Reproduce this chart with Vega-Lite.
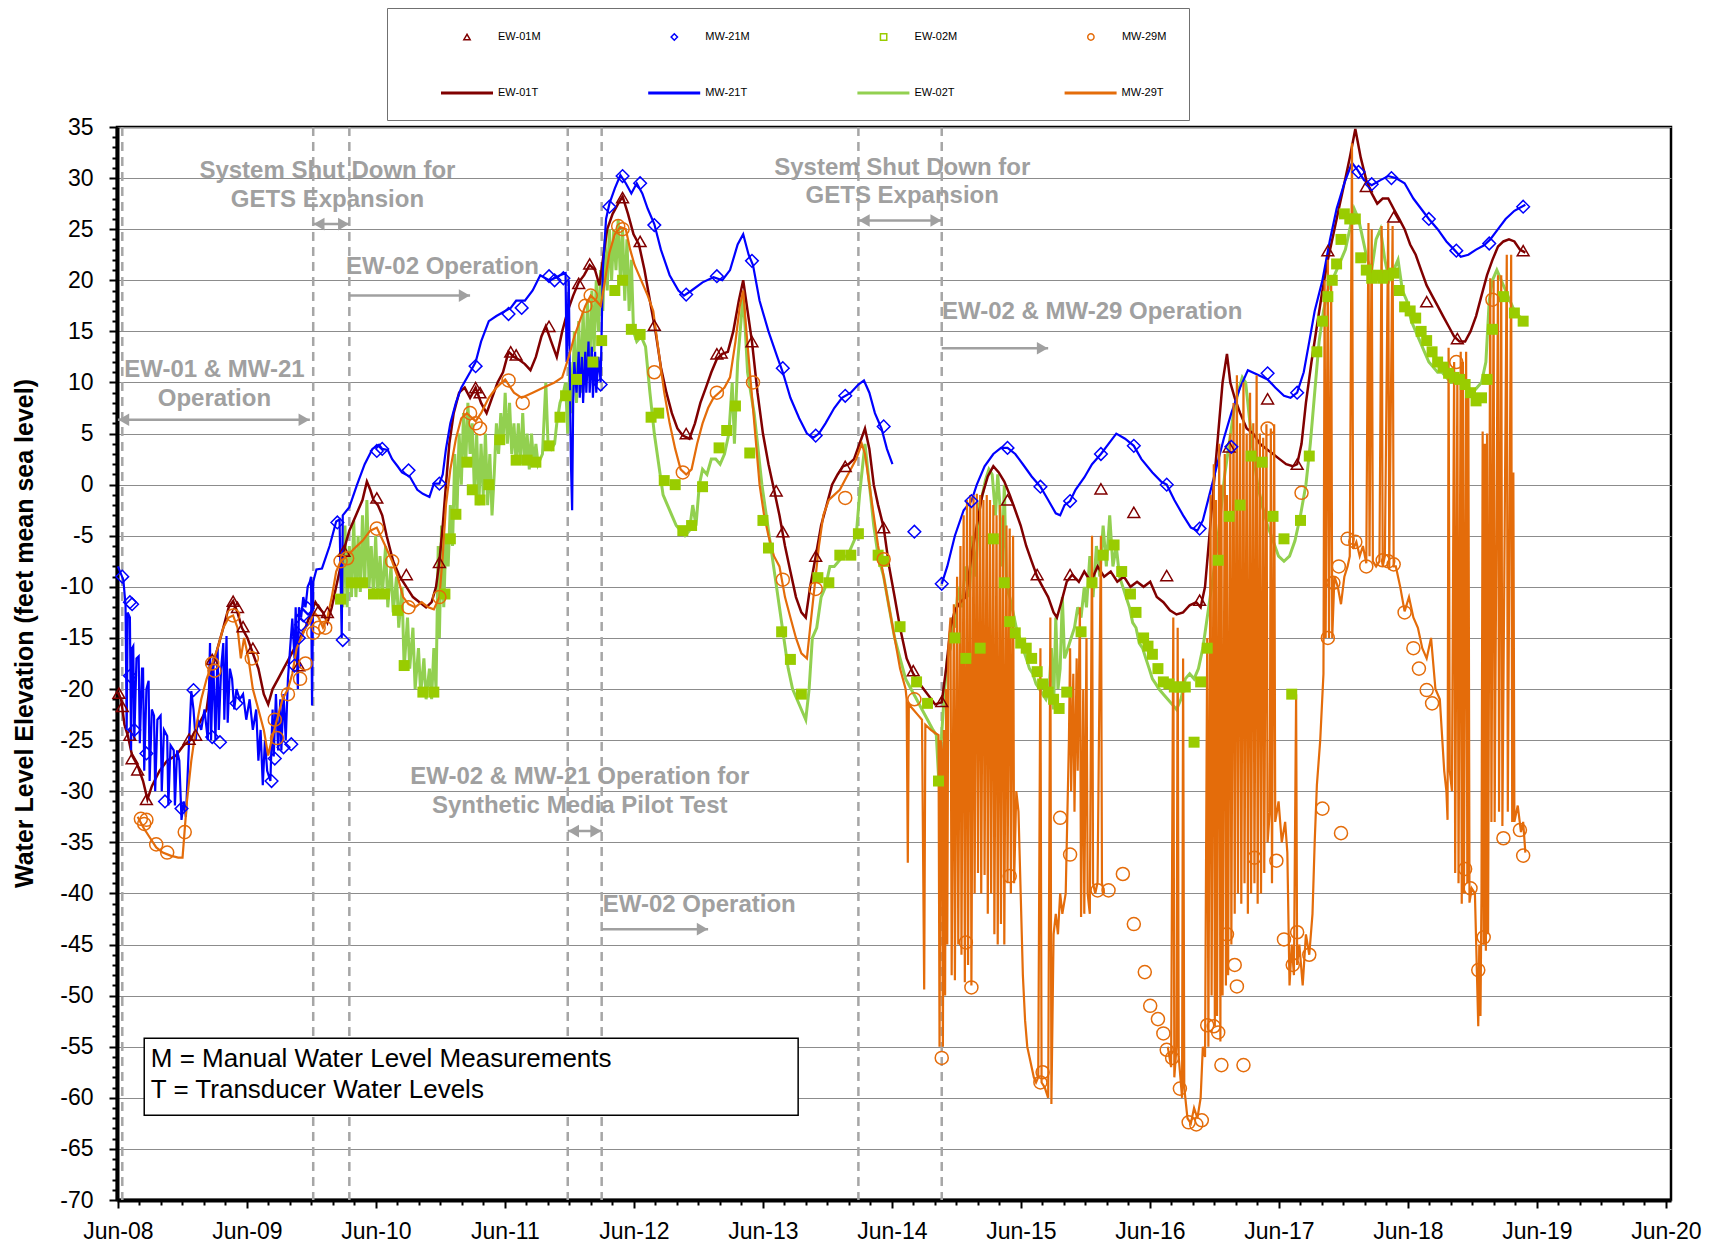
{
"$schema": "https://vega.github.io/schema/vega-lite/v6.json",
"width": 1554, "height": 1073,
"autosize": "none",
"padding": {"left": 117, "top": 127, "right": 54, "bottom": 45},
"background": "white",
"config": {
  "font": "Liberation Sans",
  "view": {"stroke": "black", "strokeWidth": 2.5},
  "axis": {"labelFont": "Liberation Sans", "labelFontSize": 23, "labelColor": "black", "domainColor": "black", "domainWidth": 4, "tickColor": "black", "tickWidth": 2, "labelOverlap": false, "labelFlush": false, "labelBound": false, "titleFont": "Liberation Sans"}
},
"datasets": {
"dashes": [{"year":2008.451},{"year":2009.931},{"year":2010.211},{"year":2011.904},{"year":2012.167},{"year":2014.157},{"year":2014.803}],
"box": [{"year":2008.621,"year2":2013.690,"level":-54.17,"level2":-61.7}],
"boxtext": [{"year":2008.672,"level":-56.2,"label":"M = Manual Water Level Measurements"},{"year":2008.672,"level":-59.2,"label":"T = Transducer Water Levels"}],
"notesc": [
 {"year":2010.041,"level":30.7,"label":"System Shut Down for"},
 {"year":2010.041,"level":27.9,"label":"GETS Expansion"},
 {"year":2009.165,"level":11.2,"label":"EW-01 & MW-21"},
 {"year":2009.165,"level":8.4,"label":"Operation"},
 {"year":2014.497,"level":31.0,"label":"System Shut Down for"},
 {"year":2014.497,"level":28.2,"label":"GETS Expansion"},
 {"year":2011.997,"level":-28.6,"label":"EW-02 & MW-21 Operation for"},
 {"year":2011.997,"level":-31.4,"label":"Synthetic Media Pilot Test"}],
"notesl": [
 {"year":2010.186,"level":21.3,"label":"EW-02 Operation"},
 {"year":2014.805,"level":16.9,"label":"EW-02 & MW-29 Operation"},
 {"year":2012.176,"level":-41.1,"label":"EW-02 Operation"}],
"arrows": [
 {"year":2009.931,"year2":2010.211,"level":25.5},
 {"year":2010.211,"year2":2011.147,"level":18.5},
 {"year":2008.417,"year2":2009.905,"level":6.35},
 {"year":2014.157,"year2":2014.803,"level":25.85},
 {"year":2014.803,"year2":2015.628,"level":13.35},
 {"year":2011.904,"year2":2012.167,"level":-33.9},
 {"year":2012.167,"year2":2012.992,"level":-43.5}],
"headsl": [{"year":2009.976,"level":25.5},{"year":2008.462,"level":6.35},{"year":2014.202,"level":25.85},{"year":2011.949,"level":-33.9}],
"headsr": [{"year":2010.166,"level":25.5},{"year":2011.102,"level":18.5},{"year":2009.860,"level":6.35},{"year":2014.758,"level":25.85},{"year":2015.583,"level":13.35},{"year":2012.122,"level":-33.9},{"year":2012.947,"level":-43.5}],
"ew02t": [
{"series":"EW-02T","year":2010.143,"level":-8},{"series":"EW-02T","year":2010.160,"level":-12},{"series":"EW-02T","year":2010.177,"level":-4},{"series":"EW-02T","year":2010.194,"level":-12},{"series":"EW-02T","year":2010.211,"level":-6},{"series":"EW-02T","year":2010.228,"level":-11},{"series":"EW-02T","year":2010.245,"level":-3.5},{"series":"EW-02T","year":2010.262,"level":-11},{"series":"EW-02T","year":2010.279,"level":-5},{"series":"EW-02T","year":2010.296,"level":-10.5},{"series":"EW-02T","year":2010.313,"level":-3},{"series":"EW-02T","year":2010.330,"level":-10},{"series":"EW-02T","year":2010.347,"level":-1.5},{"series":"EW-02T","year":2010.364,"level":-10},{"series":"EW-02T","year":2010.381,"level":-6},{"series":"EW-02T","year":2010.398,"level":-11},{"series":"EW-02T","year":2010.415,"level":-5},{"series":"EW-02T","year":2010.432,"level":-11},{"series":"EW-02T","year":2010.449,"level":-7},{"series":"EW-02T","year":2010.466,"level":-11},{"series":"EW-02T","year":2010.492,"level":-6},{"series":"EW-02T","year":2010.509,"level":-12},{"series":"EW-02T","year":2010.534,"level":-8},{"series":"EW-02T","year":2010.551,"level":-12.5},{"series":"EW-02T","year":2010.577,"level":-9},{"series":"EW-02T","year":2010.594,"level":-14},{"series":"EW-02T","year":2010.619,"level":-10},{"series":"EW-02T","year":2010.636,"level":-18},{"series":"EW-02T","year":2010.662,"level":-13},{"series":"EW-02T","year":2010.679,"level":-18},{"series":"EW-02T","year":2010.704,"level":-14},{"series":"EW-02T","year":2010.721,"level":-20},{"series":"EW-02T","year":2010.747,"level":-16},{"series":"EW-02T","year":2010.764,"level":-20.5},{"series":"EW-02T","year":2010.789,"level":-17},{"series":"EW-02T","year":2010.806,"level":-21},{"series":"EW-02T","year":2010.832,"level":-18},{"series":"EW-02T","year":2010.849,"level":-21},{"series":"EW-02T","year":2010.866,"level":-16},{"series":"EW-02T","year":2010.883,"level":-20},{"series":"EW-02T","year":2010.900,"level":-6},{"series":"EW-02T","year":2010.909,"level":-15},{"series":"EW-02T","year":2010.926,"level":-4},{"series":"EW-02T","year":2010.943,"level":-12},{"series":"EW-02T","year":2010.960,"level":-5},{"series":"EW-02T","year":2010.977,"level":-8},{"series":"EW-02T","year":2010.994,"level":-2},{"series":"EW-02T","year":2011.011,"level":-6},{"series":"EW-02T","year":2011.028,"level":3},{"series":"EW-02T","year":2011.045,"level":-3},{"series":"EW-02T","year":2011.062,"level":5},{"series":"EW-02T","year":2011.079,"level":0},{"series":"EW-02T","year":2011.096,"level":7},{"series":"EW-02T","year":2011.113,"level":2},{"series":"EW-02T","year":2011.130,"level":8},{"series":"EW-02T","year":2011.147,"level":3},{"series":"EW-02T","year":2011.164,"level":6},{"series":"EW-02T","year":2011.181,"level":-1},{"series":"EW-02T","year":2011.198,"level":5},{"series":"EW-02T","year":2011.215,"level":-2},{"series":"EW-02T","year":2011.232,"level":4},{"series":"EW-02T","year":2011.249,"level":-1},{"series":"EW-02T","year":2011.266,"level":5},{"series":"EW-02T","year":2011.283,"level":-2},{"series":"EW-02T","year":2011.300,"level":3},{"series":"EW-02T","year":2011.317,"level":-3},{"series":"EW-02T","year":2011.334,"level":1},{"series":"EW-02T","year":2011.351,"level":6},{"series":"EW-02T","year":2011.368,"level":3},{"series":"EW-02T","year":2011.385,"level":7},{"series":"EW-02T","year":2011.402,"level":4},{"series":"EW-02T","year":2011.419,"level":9},{"series":"EW-02T","year":2011.436,"level":4},{"series":"EW-02T","year":2011.453,"level":8},{"series":"EW-02T","year":2011.470,"level":3},{"series":"EW-02T","year":2011.487,"level":6},{"series":"EW-02T","year":2011.504,"level":2},{"series":"EW-02T","year":2011.521,"level":6},{"series":"EW-02T","year":2011.538,"level":2},{"series":"EW-02T","year":2011.555,"level":7},{"series":"EW-02T","year":2011.572,"level":2},{"series":"EW-02T","year":2011.589,"level":5},{"series":"EW-02T","year":2011.606,"level":1.5},{"series":"EW-02T","year":2011.623,"level":5},{"series":"EW-02T","year":2011.640,"level":2},{"series":"EW-02T","year":2011.657,"level":4},{"series":"EW-02T","year":2011.674,"level":2},{"series":"EW-02T","year":2011.708,"level":3},{"series":"EW-02T","year":2011.734,"level":10},{"series":"EW-02T","year":2011.751,"level":4},{"series":"EW-02T","year":2011.776,"level":3.5},{"series":"EW-02T","year":2011.802,"level":4},{"series":"EW-02T","year":2011.819,"level":6},{"series":"EW-02T","year":2011.844,"level":8},{"series":"EW-02T","year":2011.870,"level":9},{"series":"EW-02T","year":2011.887,"level":10},{"series":"EW-02T","year":2011.904,"level":5},{"series":"EW-02T","year":2011.921,"level":12},{"series":"EW-02T","year":2011.938,"level":7},{"series":"EW-02T","year":2011.955,"level":15},{"series":"EW-02T","year":2011.972,"level":8},{"series":"EW-02T","year":2011.989,"level":16},{"series":"EW-02T","year":2012.006,"level":9},{"series":"EW-02T","year":2012.023,"level":17},{"series":"EW-02T","year":2012.040,"level":10},{"series":"EW-02T","year":2012.057,"level":18},{"series":"EW-02T","year":2012.074,"level":11},{"series":"EW-02T","year":2012.091,"level":19},{"series":"EW-02T","year":2012.108,"level":13},{"series":"EW-02T","year":2012.125,"level":20},{"series":"EW-02T","year":2012.142,"level":15},{"series":"EW-02T","year":2012.159,"level":21},{"series":"EW-02T","year":2012.176,"level":17},{"series":"EW-02T","year":2012.193,"level":24},{"series":"EW-02T","year":2012.210,"level":19},{"series":"EW-02T","year":2012.227,"level":25},{"series":"EW-02T","year":2012.244,"level":20},{"series":"EW-02T","year":2012.261,"level":25},{"series":"EW-02T","year":2012.278,"level":21},{"series":"EW-02T","year":2012.295,"level":26},{"series":"EW-02T","year":2012.312,"level":20},{"series":"EW-02T","year":2012.329,"level":25},{"series":"EW-02T","year":2012.346,"level":18},{"series":"EW-02T","year":2012.363,"level":24},{"series":"EW-02T","year":2012.380,"level":17},{"series":"EW-02T","year":2012.397,"level":22},{"series":"EW-02T","year":2012.414,"level":15},{"series":"EW-02T","year":2012.439,"level":14},{"series":"EW-02T","year":2012.473,"level":14.5},{"series":"EW-02T","year":2012.507,"level":13.5},{"series":"EW-02T","year":2012.541,"level":9},{"series":"EW-02T","year":2012.575,"level":5},{"series":"EW-02T","year":2012.609,"level":2},{"series":"EW-02T","year":2012.643,"level":-1},{"series":"EW-02T","year":2012.677,"level":-2},{"series":"EW-02T","year":2012.711,"level":-3},{"series":"EW-02T","year":2012.745,"level":-4},{"series":"EW-02T","year":2012.779,"level":-4.5},{"series":"EW-02T","year":2012.813,"level":-5},{"series":"EW-02T","year":2012.847,"level":-4.5},{"series":"EW-02T","year":2012.873,"level":-2},{"series":"EW-02T","year":2012.898,"level":-4},{"series":"EW-02T","year":2012.924,"level":0},{"series":"EW-02T","year":2012.949,"level":1.5},{"series":"EW-02T","year":2012.983,"level":1},{"series":"EW-02T","year":2013.017,"level":2.5},{"series":"EW-02T","year":2013.051,"level":2.5},{"series":"EW-02T","year":2013.085,"level":2},{"series":"EW-02T","year":2013.119,"level":3},{"series":"EW-02T","year":2013.153,"level":5},{"series":"EW-02T","year":2013.179,"level":10},{"series":"EW-02T","year":2013.196,"level":4},{"series":"EW-02T","year":2013.221,"level":12},{"series":"EW-02T","year":2013.247,"level":16},{"series":"EW-02T","year":2013.264,"level":18.5},{"series":"EW-02T","year":2013.281,"level":15},{"series":"EW-02T","year":2013.298,"level":11},{"series":"EW-02T","year":2013.323,"level":9},{"series":"EW-02T","year":2013.349,"level":7},{"series":"EW-02T","year":2013.375,"level":4},{"series":"EW-02T","year":2013.409,"level":0},{"series":"EW-02T","year":2013.443,"level":-3},{"series":"EW-02T","year":2013.477,"level":-6},{"series":"EW-02T","year":2013.511,"level":-9},{"series":"EW-02T","year":2013.545,"level":-12},{"series":"EW-02T","year":2013.579,"level":-15},{"series":"EW-02T","year":2013.613,"level":-18},{"series":"EW-02T","year":2013.647,"level":-20},{"series":"EW-02T","year":2013.681,"level":-21},{"series":"EW-02T","year":2013.715,"level":-22},{"series":"EW-02T","year":2013.749,"level":-23},{"series":"EW-02T","year":2013.775,"level":-20},{"series":"EW-02T","year":2013.800,"level":-15},{"series":"EW-02T","year":2013.834,"level":-14},{"series":"EW-02T","year":2013.868,"level":-11},{"series":"EW-02T","year":2013.902,"level":-10},{"series":"EW-02T","year":2013.936,"level":-8},{"series":"EW-02T","year":2013.970,"level":-8},{"series":"EW-02T","year":2014.004,"level":-7.5},{"series":"EW-02T","year":2014.038,"level":-7},{"series":"EW-02T","year":2014.072,"level":-7},{"series":"EW-02T","year":2014.106,"level":-6},{"series":"EW-02T","year":2014.140,"level":-5},{"series":"EW-02T","year":2014.166,"level":-1},{"series":"EW-02T","year":2014.191,"level":2},{"series":"EW-02T","year":2014.208,"level":4},{"series":"EW-02T","year":2014.225,"level":2},{"series":"EW-02T","year":2014.251,"level":-1},{"series":"EW-02T","year":2014.276,"level":-4},{"series":"EW-02T","year":2014.310,"level":-7},{"series":"EW-02T","year":2014.353,"level":-9},{"series":"EW-02T","year":2014.395,"level":-12},{"series":"EW-02T","year":2014.438,"level":-15},{"series":"EW-02T","year":2014.480,"level":-17},{"series":"EW-02T","year":2014.523,"level":-19},{"series":"EW-02T","year":2014.565,"level":-20},{"series":"EW-02T","year":2014.608,"level":-21},{"series":"EW-02T","year":2014.650,"level":-22},{"series":"EW-02T","year":2014.693,"level":-23},{"series":"EW-02T","year":2014.735,"level":-24},{"series":"EW-02T","year":2014.761,"level":-24.5},{"series":"EW-02T","year":2014.778,"level":-28.5},{"series":"EW-02T","year":2014.795,"level":-26},{"series":"EW-02T","year":2014.820,"level":-21},{"series":"EW-02T","year":2014.846,"level":-17},{"series":"EW-02T","year":2014.871,"level":-16},{"series":"EW-02T","year":2014.888,"level":-13},{"series":"EW-02T","year":2014.905,"level":-14},{"series":"EW-02T","year":2014.931,"level":-10},{"series":"EW-02T","year":2014.956,"level":-12},{"series":"EW-02T","year":2014.990,"level":-8},{"series":"EW-02T","year":2015.016,"level":-11},{"series":"EW-02T","year":2015.041,"level":-5},{"series":"EW-02T","year":2015.067,"level":-9},{"series":"EW-02T","year":2015.092,"level":-2},{"series":"EW-02T","year":2015.118,"level":-1},{"series":"EW-02T","year":2015.143,"level":0.5},{"series":"EW-02T","year":2015.169,"level":1.5},{"series":"EW-02T","year":2015.194,"level":1},{"series":"EW-02T","year":2015.220,"level":-3},{"series":"EW-02T","year":2015.237,"level":1},{"series":"EW-02T","year":2015.254,"level":-2},{"series":"EW-02T","year":2015.271,"level":-8},{"series":"EW-02T","year":2015.288,"level":0},{"series":"EW-02T","year":2015.305,"level":-10},{"series":"EW-02T","year":2015.330,"level":-11},{"series":"EW-02T","year":2015.356,"level":-12.5},{"series":"EW-02T","year":2015.381,"level":-14},{"series":"EW-02T","year":2015.407,"level":-15},{"series":"EW-02T","year":2015.432,"level":-16},{"series":"EW-02T","year":2015.458,"level":-17},{"series":"EW-02T","year":2015.483,"level":-18},{"series":"EW-02T","year":2015.509,"level":-18.5},{"series":"EW-02T","year":2015.534,"level":-19.5},{"series":"EW-02T","year":2015.560,"level":-20},{"series":"EW-02T","year":2015.585,"level":-20.5},{"series":"EW-02T","year":2015.611,"level":-21},{"series":"EW-02T","year":2015.636,"level":-20},{"series":"EW-02T","year":2015.653,"level":-16},{"series":"EW-02T","year":2015.670,"level":-22},{"series":"EW-02T","year":2015.687,"level":-13},{"series":"EW-02T","year":2015.704,"level":-20},{"series":"EW-02T","year":2015.721,"level":-18},{"series":"EW-02T","year":2015.738,"level":-11},{"series":"EW-02T","year":2015.755,"level":-17},{"series":"EW-02T","year":2015.781,"level":-16},{"series":"EW-02T","year":2015.806,"level":-15},{"series":"EW-02T","year":2015.832,"level":-14},{"series":"EW-02T","year":2015.857,"level":-12},{"series":"EW-02T","year":2015.883,"level":-13},{"series":"EW-02T","year":2015.908,"level":-10},{"series":"EW-02T","year":2015.925,"level":-12},{"series":"EW-02T","year":2015.951,"level":-7},{"series":"EW-02T","year":2015.976,"level":-11},{"series":"EW-02T","year":2016.002,"level":-6},{"series":"EW-02T","year":2016.028,"level":-9},{"series":"EW-02T","year":2016.054,"level":-4},{"series":"EW-02T","year":2016.079,"level":-8},{"series":"EW-02T","year":2016.105,"level":-3},{"series":"EW-02T","year":2016.130,"level":-8},{"series":"EW-02T","year":2016.156,"level":-6},{"series":"EW-02T","year":2016.181,"level":-9},{"series":"EW-02T","year":2016.207,"level":-10},{"series":"EW-02T","year":2016.232,"level":-11},{"series":"EW-02T","year":2016.258,"level":-12},{"series":"EW-02T","year":2016.283,"level":-13.5},{"series":"EW-02T","year":2016.309,"level":-14},{"series":"EW-02T","year":2016.334,"level":-15.5},{"series":"EW-02T","year":2016.360,"level":-16},{"series":"EW-02T","year":2016.385,"level":-17},{"series":"EW-02T","year":2016.411,"level":-18},{"series":"EW-02T","year":2016.436,"level":-19},{"series":"EW-02T","year":2016.462,"level":-19.5},{"series":"EW-02T","year":2016.487,"level":-20},{"series":"EW-02T","year":2016.521,"level":-20.5},{"series":"EW-02T","year":2016.555,"level":-21},{"series":"EW-02T","year":2016.589,"level":-21.5},{"series":"EW-02T","year":2016.623,"level":-22},{"series":"EW-02T","year":2016.657,"level":-21},{"series":"EW-02T","year":2016.691,"level":-19},{"series":"EW-02T","year":2016.725,"level":-18.5},{"series":"EW-02T","year":2016.759,"level":-19},{"series":"EW-02T","year":2016.793,"level":-18},{"series":"EW-02T","year":2016.827,"level":-16},{"series":"EW-02T","year":2016.861,"level":-13},{"series":"EW-02T","year":2016.895,"level":-10},{"series":"EW-02T","year":2016.929,"level":-7},{"series":"EW-02T","year":2016.963,"level":-3},{"series":"EW-02T","year":2016.997,"level":1},{"series":"EW-02T","year":2017.031,"level":4},{"series":"EW-02T","year":2017.065,"level":7},{"series":"EW-02T","year":2017.099,"level":9},{"series":"EW-02T","year":2017.133,"level":10.5},{"series":"EW-02T","year":2017.159,"level":10},{"series":"EW-02T","year":2017.184,"level":7},{"series":"EW-02T","year":2017.218,"level":3},{"series":"EW-02T","year":2017.252,"level":0},{"series":"EW-02T","year":2017.286,"level":-2},{"series":"EW-02T","year":2017.329,"level":-4},{"series":"EW-02T","year":2017.371,"level":-5.5},{"series":"EW-02T","year":2017.414,"level":-7},{"series":"EW-02T","year":2017.456,"level":-7.5},{"series":"EW-02T","year":2017.499,"level":-7},{"series":"EW-02T","year":2017.541,"level":-5.5},{"series":"EW-02T","year":2017.584,"level":-3},{"series":"EW-02T","year":2017.626,"level":0},{"series":"EW-02T","year":2017.660,"level":4},{"series":"EW-02T","year":2017.694,"level":9},{"series":"EW-02T","year":2017.728,"level":14},{"series":"EW-02T","year":2017.762,"level":17},{"series":"EW-02T","year":2017.796,"level":19},{"series":"EW-02T","year":2017.830,"level":20},{"series":"EW-02T","year":2017.864,"level":21},{"series":"EW-02T","year":2017.898,"level":22},{"series":"EW-02T","year":2017.932,"level":23},{"series":"EW-02T","year":2017.966,"level":25},{"series":"EW-02T","year":2018.000,"level":27},{"series":"EW-02T","year":2018.034,"level":26},{"series":"EW-02T","year":2018.068,"level":24},{"series":"EW-02T","year":2018.102,"level":22},{"series":"EW-02T","year":2018.136,"level":21},{"series":"EW-02T","year":2018.170,"level":24},{"series":"EW-02T","year":2018.204,"level":25},{"series":"EW-02T","year":2018.238,"level":22},{"series":"EW-02T","year":2018.272,"level":20},{"series":"EW-02T","year":2018.306,"level":21},{"series":"EW-02T","year":2018.340,"level":22},{"series":"EW-02T","year":2018.374,"level":19},{"series":"EW-02T","year":2018.408,"level":18},{"series":"EW-02T","year":2018.443,"level":16},{"series":"EW-02T","year":2018.477,"level":15},{"series":"EW-02T","year":2018.511,"level":14},{"series":"EW-02T","year":2018.545,"level":13},{"series":"EW-02T","year":2018.579,"level":12},{"series":"EW-02T","year":2018.613,"level":11.5},{"series":"EW-02T","year":2018.647,"level":11},{"series":"EW-02T","year":2018.681,"level":11},{"series":"EW-02T","year":2018.715,"level":10.5},{"series":"EW-02T","year":2018.749,"level":10},{"series":"EW-02T","year":2018.783,"level":10},{"series":"EW-02T","year":2018.817,"level":10},{"series":"EW-02T","year":2018.851,"level":10},{"series":"EW-02T","year":2018.885,"level":9.5},{"series":"EW-02T","year":2018.919,"level":9},{"series":"EW-02T","year":2018.953,"level":9.5},{"series":"EW-02T","year":2018.987,"level":10},{"series":"EW-02T","year":2019.021,"level":12},{"series":"EW-02T","year":2019.047,"level":18},{"series":"EW-02T","year":2019.072,"level":20},{"series":"EW-02T","year":2019.106,"level":21},{"series":"EW-02T","year":2019.140,"level":20},{"series":"EW-02T","year":2019.174,"level":19},{"series":"EW-02T","year":2019.208,"level":18},{"series":"EW-02T","year":2019.242,"level":17},{"series":"EW-02T","year":2019.276,"level":16.5},{"series":"EW-02T","year":2019.327,"level":16}],
"ew01t": [
{"series":"EW-01T","year":2008.417,"level":-20.3},{"series":"EW-01T","year":2008.442,"level":-21},{"series":"EW-01T","year":2008.468,"level":-23.5},{"series":"EW-01T","year":2008.493,"level":-24.5},{"series":"EW-01T","year":2008.527,"level":-26.5},{"series":"EW-01T","year":2008.570,"level":-27.5},{"series":"EW-01T","year":2008.612,"level":-29},{"series":"EW-01T","year":2008.646,"level":-30.8},{"series":"EW-01T","year":2008.680,"level":-29.5},{"series":"EW-01T","year":2008.740,"level":-28},{"series":"EW-01T","year":2008.799,"level":-27},{"series":"EW-01T","year":2008.867,"level":-26.5},{"series":"EW-01T","year":2008.927,"level":-25.5},{"series":"EW-01T","year":2008.978,"level":-25},{"series":"EW-01T","year":2009.020,"level":-24},{"series":"EW-01T","year":2009.063,"level":-23},{"series":"EW-01T","year":2009.105,"level":-22},{"series":"EW-01T","year":2009.148,"level":-18},{"series":"EW-01T","year":2009.190,"level":-16},{"series":"EW-01T","year":2009.234,"level":-14},{"series":"EW-01T","year":2009.276,"level":-12},{"series":"EW-01T","year":2009.310,"level":-11.4},{"series":"EW-01T","year":2009.344,"level":-12.5},{"series":"EW-01T","year":2009.378,"level":-14},{"series":"EW-01T","year":2009.421,"level":-15},{"series":"EW-01T","year":2009.463,"level":-16.5},{"series":"EW-01T","year":2009.506,"level":-18},{"series":"EW-01T","year":2009.548,"level":-20.5},{"series":"EW-01T","year":2009.582,"level":-21.5},{"series":"EW-01T","year":2009.616,"level":-20},{"series":"EW-01T","year":2009.659,"level":-19},{"series":"EW-01T","year":2009.701,"level":-18},{"series":"EW-01T","year":2009.744,"level":-17},{"series":"EW-01T","year":2009.786,"level":-16},{"series":"EW-01T","year":2009.829,"level":-15},{"series":"EW-01T","year":2009.871,"level":-14},{"series":"EW-01T","year":2009.914,"level":-12.5},{"series":"EW-01T","year":2009.948,"level":-11.5},{"series":"EW-01T","year":2009.973,"level":-12},{"series":"EW-01T","year":2010.007,"level":-12.5},{"series":"EW-01T","year":2010.041,"level":-13.5},{"series":"EW-01T","year":2010.075,"level":-12},{"series":"EW-01T","year":2010.109,"level":-10},{"series":"EW-01T","year":2010.143,"level":-8},{"series":"EW-01T","year":2010.177,"level":-6},{"series":"EW-01T","year":2010.211,"level":-4.5},{"series":"EW-01T","year":2010.245,"level":-3.5},{"series":"EW-01T","year":2010.279,"level":-2.5},{"series":"EW-01T","year":2010.313,"level":-1.5},{"series":"EW-01T","year":2010.347,"level":0.3},{"series":"EW-01T","year":2010.373,"level":-0.5},{"series":"EW-01T","year":2010.398,"level":-1.5},{"series":"EW-01T","year":2010.432,"level":-2},{"series":"EW-01T","year":2010.466,"level":-3},{"series":"EW-01T","year":2010.500,"level":-5},{"series":"EW-01T","year":2010.551,"level":-7.5},{"series":"EW-01T","year":2010.602,"level":-9},{"series":"EW-01T","year":2010.653,"level":-10},{"series":"EW-01T","year":2010.704,"level":-11},{"series":"EW-01T","year":2010.755,"level":-11.5},{"series":"EW-01T","year":2010.806,"level":-12},{"series":"EW-01T","year":2010.849,"level":-11.5},{"series":"EW-01T","year":2010.883,"level":-10},{"series":"EW-01T","year":2010.909,"level":-7.5},{"series":"EW-01T","year":2010.935,"level":-4},{"series":"EW-01T","year":2010.960,"level":0},{"series":"EW-01T","year":2010.986,"level":4},{"series":"EW-01T","year":2011.020,"level":7},{"series":"EW-01T","year":2011.062,"level":9},{"series":"EW-01T","year":2011.105,"level":9.5},{"series":"EW-01T","year":2011.147,"level":8.5},{"series":"EW-01T","year":2011.190,"level":9.5},{"series":"EW-01T","year":2011.232,"level":8},{"series":"EW-01T","year":2011.275,"level":7},{"series":"EW-01T","year":2011.317,"level":8.5},{"series":"EW-01T","year":2011.360,"level":10},{"series":"EW-01T","year":2011.402,"level":11},{"series":"EW-01T","year":2011.445,"level":13},{"series":"EW-01T","year":2011.487,"level":12.5},{"series":"EW-01T","year":2011.530,"level":12.2},{"series":"EW-01T","year":2011.572,"level":11.8},{"series":"EW-01T","year":2011.615,"level":11.2},{"series":"EW-01T","year":2011.657,"level":12.5},{"series":"EW-01T","year":2011.700,"level":14.5},{"series":"EW-01T","year":2011.734,"level":15.5},{"series":"EW-01T","year":2011.776,"level":14},{"series":"EW-01T","year":2011.819,"level":12.5},{"series":"EW-01T","year":2011.861,"level":15},{"series":"EW-01T","year":2011.904,"level":17},{"series":"EW-01T","year":2011.946,"level":18.5},{"series":"EW-01T","year":2011.989,"level":19.8},{"series":"EW-01T","year":2012.031,"level":20.5},{"series":"EW-01T","year":2012.074,"level":21.5},{"series":"EW-01T","year":2012.116,"level":21},{"series":"EW-01T","year":2012.150,"level":19.5},{"series":"EW-01T","year":2012.176,"level":22},{"series":"EW-01T","year":2012.210,"level":25},{"series":"EW-01T","year":2012.252,"level":26.5},{"series":"EW-01T","year":2012.295,"level":27.5},{"series":"EW-01T","year":2012.329,"level":28.2},{"series":"EW-01T","year":2012.371,"level":26.5},{"series":"EW-01T","year":2012.414,"level":24.5},{"series":"EW-01T","year":2012.456,"level":23.5},{"series":"EW-01T","year":2012.499,"level":21},{"series":"EW-01T","year":2012.541,"level":18},{"series":"EW-01T","year":2012.584,"level":15},{"series":"EW-01T","year":2012.626,"level":11.5},{"series":"EW-01T","year":2012.669,"level":9},{"series":"EW-01T","year":2012.711,"level":7},{"series":"EW-01T","year":2012.754,"level":5.5},{"series":"EW-01T","year":2012.796,"level":4.8},{"series":"EW-01T","year":2012.847,"level":4.5},{"series":"EW-01T","year":2012.890,"level":6},{"series":"EW-01T","year":2012.932,"level":8},{"series":"EW-01T","year":2012.975,"level":9.5},{"series":"EW-01T","year":2013.017,"level":11},{"series":"EW-01T","year":2013.060,"level":12.3},{"series":"EW-01T","year":2013.102,"level":12.8},{"series":"EW-01T","year":2013.145,"level":13},{"series":"EW-01T","year":2013.187,"level":15},{"series":"EW-01T","year":2013.230,"level":18},{"series":"EW-01T","year":2013.264,"level":20},{"series":"EW-01T","year":2013.298,"level":17},{"series":"EW-01T","year":2013.332,"level":14},{"series":"EW-01T","year":2013.375,"level":9},{"series":"EW-01T","year":2013.417,"level":5},{"series":"EW-01T","year":2013.460,"level":2},{"series":"EW-01T","year":2013.503,"level":-0.5},{"series":"EW-01T","year":2013.545,"level":-3},{"series":"EW-01T","year":2013.588,"level":-6},{"series":"EW-01T","year":2013.630,"level":-8.5},{"series":"EW-01T","year":2013.673,"level":-11},{"series":"EW-01T","year":2013.715,"level":-12.5},{"series":"EW-01T","year":2013.749,"level":-13},{"series":"EW-01T","year":2013.783,"level":-10},{"series":"EW-01T","year":2013.826,"level":-7},{"series":"EW-01T","year":2013.868,"level":-4},{"series":"EW-01T","year":2013.911,"level":-2},{"series":"EW-01T","year":2013.953,"level":0},{"series":"EW-01T","year":2013.996,"level":1},{"series":"EW-01T","year":2014.038,"level":1.8},{"series":"EW-01T","year":2014.081,"level":2},{"series":"EW-01T","year":2014.123,"level":2.5},{"series":"EW-01T","year":2014.166,"level":4},{"series":"EW-01T","year":2014.208,"level":5.5},{"series":"EW-01T","year":2014.242,"level":3.5},{"series":"EW-01T","year":2014.276,"level":0},{"series":"EW-01T","year":2014.310,"level":-2},{"series":"EW-01T","year":2014.353,"level":-4.2},{"series":"EW-01T","year":2014.395,"level":-8},{"series":"EW-01T","year":2014.438,"level":-11},{"series":"EW-01T","year":2014.480,"level":-14},{"series":"EW-01T","year":2014.531,"level":-17},{"series":"EW-01T","year":2014.582,"level":-18.5},{"series":"EW-01T","year":2014.633,"level":-19.5},{"series":"EW-01T","year":2014.693,"level":-20.5},{"series":"EW-01T","year":2014.752,"level":-21.5},{"series":"EW-01T","year":2014.803,"level":-21.3},{"series":"EW-01T","year":2014.837,"level":-18},{"series":"EW-01T","year":2014.871,"level":-14},{"series":"EW-01T","year":2014.905,"level":-12.3},{"series":"EW-01T","year":2014.948,"level":-11.5},{"series":"EW-01T","year":2014.990,"level":-11},{"series":"EW-01T","year":2015.033,"level":-7},{"series":"EW-01T","year":2015.075,"level":-4},{"series":"EW-01T","year":2015.118,"level":-1},{"series":"EW-01T","year":2015.160,"level":0.8},{"series":"EW-01T","year":2015.203,"level":1.8},{"series":"EW-01T","year":2015.245,"level":1.2},{"series":"EW-01T","year":2015.288,"level":0.3},{"series":"EW-01T","year":2015.330,"level":-1},{"series":"EW-01T","year":2015.373,"level":-2.5},{"series":"EW-01T","year":2015.415,"level":-4},{"series":"EW-01T","year":2015.458,"level":-6},{"series":"EW-01T","year":2015.500,"level":-7.5},{"series":"EW-01T","year":2015.543,"level":-9},{"series":"EW-01T","year":2015.585,"level":-10},{"series":"EW-01T","year":2015.628,"level":-11},{"series":"EW-01T","year":2015.670,"level":-12.5},{"series":"EW-01T","year":2015.696,"level":-13},{"series":"EW-01T","year":2015.730,"level":-11.5},{"series":"EW-01T","year":2015.772,"level":-9.5},{"series":"EW-01T","year":2015.815,"level":-8.8},{"series":"EW-01T","year":2015.866,"level":-9.5},{"series":"EW-01T","year":2015.908,"level":-8.5},{"series":"EW-01T","year":2015.959,"level":-9.5},{"series":"EW-01T","year":2016.011,"level":-8},{"series":"EW-01T","year":2016.062,"level":-9},{"series":"EW-01T","year":2016.113,"level":-8.5},{"series":"EW-01T","year":2016.164,"level":-9.5},{"series":"EW-01T","year":2016.215,"level":-9},{"series":"EW-01T","year":2016.266,"level":-10},{"series":"EW-01T","year":2016.317,"level":-9.5},{"series":"EW-01T","year":2016.368,"level":-10},{"series":"EW-01T","year":2016.419,"level":-9.5},{"series":"EW-01T","year":2016.470,"level":-11},{"series":"EW-01T","year":2016.521,"level":-11.5},{"series":"EW-01T","year":2016.572,"level":-12.3},{"series":"EW-01T","year":2016.623,"level":-12.7},{"series":"EW-01T","year":2016.674,"level":-12.5},{"series":"EW-01T","year":2016.725,"level":-11.8},{"series":"EW-01T","year":2016.776,"level":-11.5},{"series":"EW-01T","year":2016.810,"level":-12},{"series":"EW-01T","year":2016.844,"level":-10},{"series":"EW-01T","year":2016.878,"level":-5},{"series":"EW-01T","year":2016.912,"level":0},{"series":"EW-01T","year":2016.946,"level":5},{"series":"EW-01T","year":2016.980,"level":10},{"series":"EW-01T","year":2017.014,"level":12.8},{"series":"EW-01T","year":2017.040,"level":10},{"series":"EW-01T","year":2017.074,"level":8.5},{"series":"EW-01T","year":2017.116,"level":7},{"series":"EW-01T","year":2017.167,"level":5.5},{"series":"EW-01T","year":2017.218,"level":5},{"series":"EW-01T","year":2017.269,"level":4},{"series":"EW-01T","year":2017.320,"level":3.5},{"series":"EW-01T","year":2017.371,"level":3},{"series":"EW-01T","year":2017.422,"level":2.5},{"series":"EW-01T","year":2017.473,"level":2},{"series":"EW-01T","year":2017.524,"level":1.8},{"series":"EW-01T","year":2017.558,"level":2},{"series":"EW-01T","year":2017.592,"level":4},{"series":"EW-01T","year":2017.626,"level":8},{"series":"EW-01T","year":2017.669,"level":12},{"series":"EW-01T","year":2017.711,"level":15.5},{"series":"EW-01T","year":2017.754,"level":19},{"series":"EW-01T","year":2017.796,"level":22},{"series":"EW-01T","year":2017.839,"level":24.5},{"series":"EW-01T","year":2017.881,"level":27},{"series":"EW-01T","year":2017.924,"level":29.5},{"series":"EW-01T","year":2017.966,"level":32},{"series":"EW-01T","year":2018.009,"level":34.8},{"series":"EW-01T","year":2018.051,"level":32},{"series":"EW-01T","year":2018.094,"level":29.8},{"series":"EW-01T","year":2018.136,"level":28.5},{"series":"EW-01T","year":2018.179,"level":27.5},{"series":"EW-01T","year":2018.221,"level":28},{"series":"EW-01T","year":2018.264,"level":28},{"series":"EW-01T","year":2018.306,"level":27},{"series":"EW-01T","year":2018.349,"level":26},{"series":"EW-01T","year":2018.391,"level":25},{"series":"EW-01T","year":2018.434,"level":23.5},{"series":"EW-01T","year":2018.477,"level":22.5},{"series":"EW-01T","year":2018.519,"level":21},{"series":"EW-01T","year":2018.562,"level":19.5},{"series":"EW-01T","year":2018.604,"level":18.5},{"series":"EW-01T","year":2018.647,"level":17.5},{"series":"EW-01T","year":2018.689,"level":16.5},{"series":"EW-01T","year":2018.732,"level":15.5},{"series":"EW-01T","year":2018.775,"level":14.5},{"series":"EW-01T","year":2018.817,"level":14},{"series":"EW-01T","year":2018.860,"level":14},{"series":"EW-01T","year":2018.902,"level":15},{"series":"EW-01T","year":2018.945,"level":16.5},{"series":"EW-01T","year":2018.987,"level":18.5},{"series":"EW-01T","year":2019.030,"level":20.5},{"series":"EW-01T","year":2019.072,"level":22},{"series":"EW-01T","year":2019.115,"level":23.3},{"series":"EW-01T","year":2019.157,"level":23.8},{"series":"EW-01T","year":2019.200,"level":24},{"series":"EW-01T","year":2019.242,"level":23.8},{"series":"EW-01T","year":2019.285,"level":23},{"series":"EW-01T","year":2019.327,"level":22.7}],
"mw21t": [
{"series":"MW-21T","seg":1,"year":2008.417,"level":-8},{"series":"MW-21T","seg":1,"year":2008.459,"level":-9.3},{"series":"MW-21T","seg":1,"year":2008.476,"level":-11.7},{"series":"MW-21T","seg":1,"year":2008.485,"level":-24},{"series":"MW-21T","seg":1,"year":2008.493,"level":-12.5},{"series":"MW-21T","seg":1,"year":2008.510,"level":-13},{"series":"MW-21T","seg":1,"year":2008.519,"level":-26},{"series":"MW-21T","seg":1,"year":2008.527,"level":-16},{"series":"MW-21T","seg":1,"year":2008.536,"level":-15.8},{"series":"MW-21T","seg":1,"year":2008.544,"level":-25},{"series":"MW-21T","seg":1,"year":2008.561,"level":-17},{"series":"MW-21T","seg":1,"year":2008.578,"level":-16.8},{"series":"MW-21T","seg":1,"year":2008.587,"level":-25.3},{"series":"MW-21T","seg":1,"year":2008.604,"level":-18},{"series":"MW-21T","seg":1,"year":2008.612,"level":-18},{"series":"MW-21T","seg":1,"year":2008.621,"level":-28},{"series":"MW-21T","seg":1,"year":2008.638,"level":-20},{"series":"MW-21T","seg":1,"year":2008.655,"level":-19.2},{"series":"MW-21T","seg":1,"year":2008.663,"level":-29},{"series":"MW-21T","seg":1,"year":2008.680,"level":-22},{"series":"MW-21T","seg":1,"year":2008.697,"level":-22.6},{"series":"MW-21T","seg":1,"year":2008.706,"level":-30},{"series":"MW-21T","seg":1,"year":2008.723,"level":-23},{"series":"MW-21T","seg":1,"year":2008.748,"level":-22.6},{"series":"MW-21T","seg":1,"year":2008.757,"level":-30},{"series":"MW-21T","seg":1,"year":2008.774,"level":-24},{"series":"MW-21T","seg":1,"year":2008.799,"level":-24.6},{"series":"MW-21T","seg":1,"year":2008.808,"level":-31.4},{"series":"MW-21T","seg":1,"year":2008.825,"level":-25.5},{"series":"MW-21T","seg":1,"year":2008.850,"level":-26},{"series":"MW-21T","seg":1,"year":2008.859,"level":-31.4},{"series":"MW-21T","seg":1,"year":2008.876,"level":-26},{"series":"MW-21T","seg":1,"year":2008.893,"level":-27},{"series":"MW-21T","seg":1,"year":2008.910,"level":-32.8},{"series":"MW-21T","seg":1,"year":2008.927,"level":-31},{"series":"MW-21T","seg":1,"year":2008.944,"level":-32.5},{"series":"MW-21T","seg":1,"year":2008.969,"level":-25},{"series":"MW-21T","seg":1,"year":2008.986,"level":-20.2},{"series":"MW-21T","seg":1,"year":2009.003,"level":-22},{"series":"MW-21T","seg":1,"year":2009.020,"level":-25},{"series":"MW-21T","seg":1,"year":2009.037,"level":-23},{"series":"MW-21T","seg":1,"year":2009.063,"level":-24},{"series":"MW-21T","seg":1,"year":2009.088,"level":-22},{"series":"MW-21T","seg":1,"year":2009.114,"level":-25},{"series":"MW-21T","seg":1,"year":2009.131,"level":-15.5},{"series":"MW-21T","seg":1,"year":2009.139,"level":-25},{"series":"MW-21T","seg":1,"year":2009.156,"level":-17},{"series":"MW-21T","seg":1,"year":2009.173,"level":-25},{"series":"MW-21T","seg":1,"year":2009.190,"level":-16},{"series":"MW-21T","seg":1,"year":2009.199,"level":-24},{"series":"MW-21T","seg":1,"year":2009.217,"level":-18},{"series":"MW-21T","seg":1,"year":2009.234,"level":-15.5},{"series":"MW-21T","seg":1,"year":2009.242,"level":-23},{"series":"MW-21T","seg":1,"year":2009.259,"level":-14.8},{"series":"MW-21T","seg":1,"year":2009.268,"level":-23.3},{"series":"MW-21T","seg":1,"year":2009.285,"level":-18},{"series":"MW-21T","seg":1,"year":2009.302,"level":-19},{"series":"MW-21T","seg":1,"year":2009.319,"level":-22},{"series":"MW-21T","seg":1,"year":2009.336,"level":-20},{"series":"MW-21T","seg":1,"year":2009.361,"level":-21},{"series":"MW-21T","seg":1,"year":2009.387,"level":-20.5},{"series":"MW-21T","seg":1,"year":2009.412,"level":-23},{"series":"MW-21T","seg":1,"year":2009.438,"level":-21},{"series":"MW-21T","seg":1,"year":2009.463,"level":-24},{"series":"MW-21T","seg":1,"year":2009.489,"level":-22},{"series":"MW-21T","seg":1,"year":2009.506,"level":-27},{"series":"MW-21T","seg":1,"year":2009.523,"level":-24},{"series":"MW-21T","seg":1,"year":2009.540,"level":-29.4},{"series":"MW-21T","seg":1,"year":2009.557,"level":-25},{"series":"MW-21T","seg":1,"year":2009.574,"level":-28},{"series":"MW-21T","seg":1,"year":2009.599,"level":-29},{"series":"MW-21T","seg":1,"year":2009.616,"level":-22},{"series":"MW-21T","seg":1,"year":2009.625,"level":-26.6},{"series":"MW-21T","seg":1,"year":2009.642,"level":-20.5},{"series":"MW-21T","seg":1,"year":2009.659,"level":-26},{"series":"MW-21T","seg":1,"year":2009.676,"level":-21},{"series":"MW-21T","seg":1,"year":2009.684,"level":-26},{"series":"MW-21T","seg":1,"year":2009.701,"level":-20.5},{"series":"MW-21T","seg":1,"year":2009.718,"level":-25},{"series":"MW-21T","seg":1,"year":2009.735,"level":-19},{"series":"MW-21T","seg":1,"year":2009.752,"level":-16},{"series":"MW-21T","seg":1,"year":2009.769,"level":-13.1},{"series":"MW-21T","seg":1,"year":2009.786,"level":-17},{"series":"MW-21T","seg":1,"year":2009.795,"level":-12},{"series":"MW-21T","seg":1,"year":2009.812,"level":-20},{"series":"MW-21T","seg":1,"year":2009.820,"level":-12},{"series":"MW-21T","seg":1,"year":2009.837,"level":-13},{"series":"MW-21T","seg":1,"year":2009.854,"level":-11},{"series":"MW-21T","seg":1,"year":2009.871,"level":-12},{"series":"MW-21T","seg":1,"year":2009.888,"level":-10},{"series":"MW-21T","seg":1,"year":2009.905,"level":-9.5},{"series":"MW-21T","seg":1,"year":2009.914,"level":-9},{"series":"MW-21T","seg":1,"year":2009.922,"level":-21.6},{"series":"MW-21T","seg":1,"year":2009.931,"level":-9.5},{"series":"MW-21T","seg":1,"year":2009.956,"level":-8.3},{"series":"MW-21T","seg":1,"year":2009.999,"level":-8.2},{"series":"MW-21T","seg":1,"year":2010.058,"level":-6},{"series":"MW-21T","seg":1,"year":2010.109,"level":-3.6},{"series":"MW-21T","seg":1,"year":2010.135,"level":-3.4},{"series":"MW-21T","seg":1,"year":2010.152,"level":-15},{"series":"MW-21T","seg":1,"year":2010.160,"level":-3},{"series":"MW-21T","seg":1,"year":2010.211,"level":-2.2},{"series":"MW-21T","seg":1,"year":2010.271,"level":0},{"series":"MW-21T","seg":1,"year":2010.330,"level":2},{"series":"MW-21T","seg":1,"year":2010.390,"level":3.5},{"series":"MW-21T","seg":1,"year":2010.441,"level":3.9},{"series":"MW-21T","seg":1,"year":2010.466,"level":3.5},{"series":"MW-21T","seg":1,"year":2010.509,"level":3.4},{"series":"MW-21T","seg":1,"year":2010.543,"level":2.5},{"series":"MW-21T","seg":1,"year":2010.585,"level":1.8},{"series":"MW-21T","seg":1,"year":2010.619,"level":1.2},{"series":"MW-21T","seg":1,"year":2010.679,"level":0.8},{"series":"MW-21T","seg":1,"year":2010.738,"level":-0.5},{"series":"MW-21T","seg":1,"year":2010.781,"level":-0.9},{"series":"MW-21T","seg":1,"year":2010.832,"level":-1.2},{"series":"MW-21T","seg":1,"year":2010.866,"level":0.1},{"series":"MW-21T","seg":1,"year":2010.909,"level":0.1},{"series":"MW-21T","seg":1,"year":2010.935,"level":1},{"series":"MW-21T","seg":1,"year":2010.960,"level":3.5},{"series":"MW-21T","seg":1,"year":2010.994,"level":6},{"series":"MW-21T","seg":1,"year":2011.037,"level":8},{"series":"MW-21T","seg":1,"year":2011.079,"level":9.5},{"series":"MW-21T","seg":1,"year":2011.147,"level":11},{"series":"MW-21T","seg":1,"year":2011.190,"level":12},{"series":"MW-21T","seg":1,"year":2011.232,"level":14},{"series":"MW-21T","seg":1,"year":2011.292,"level":16},{"series":"MW-21T","seg":1,"year":2011.351,"level":16.5},{"series":"MW-21T","seg":1,"year":2011.419,"level":17},{"series":"MW-21T","seg":1,"year":2011.462,"level":17.3},{"series":"MW-21T","seg":1,"year":2011.504,"level":18},{"series":"MW-21T","seg":1,"year":2011.572,"level":18},{"series":"MW-21T","seg":1,"year":2011.632,"level":19},{"series":"MW-21T","seg":1,"year":2011.691,"level":20.5},{"series":"MW-21T","seg":1,"year":2011.759,"level":20},{"series":"MW-21T","seg":1,"year":2011.802,"level":20.2},{"series":"MW-21T","seg":1,"year":2011.844,"level":20.5},{"series":"MW-21T","seg":1,"year":2011.887,"level":20.7},{"series":"MW-21T","seg":1,"year":2011.895,"level":12},{"series":"MW-21T","seg":1,"year":2011.912,"level":20},{"series":"MW-21T","seg":1,"year":2011.921,"level":10},{"series":"MW-21T","seg":1,"year":2011.929,"level":2},{"series":"MW-21T","seg":1,"year":2011.938,"level":-2.5},{"series":"MW-21T","seg":1,"year":2011.946,"level":8},{"series":"MW-21T","seg":1,"year":2011.955,"level":12},{"series":"MW-21T","seg":1,"year":2011.972,"level":9},{"series":"MW-21T","seg":1,"year":2011.989,"level":13},{"series":"MW-21T","seg":1,"year":2011.997,"level":8.5},{"series":"MW-21T","seg":1,"year":2012.014,"level":12.5},{"series":"MW-21T","seg":1,"year":2012.023,"level":8},{"series":"MW-21T","seg":1,"year":2012.040,"level":13},{"series":"MW-21T","seg":1,"year":2012.048,"level":9},{"series":"MW-21T","seg":1,"year":2012.065,"level":14},{"series":"MW-21T","seg":1,"year":2012.074,"level":9},{"series":"MW-21T","seg":1,"year":2012.091,"level":13.5},{"series":"MW-21T","seg":1,"year":2012.099,"level":8.5},{"series":"MW-21T","seg":1,"year":2012.116,"level":13},{"series":"MW-21T","seg":1,"year":2012.125,"level":9},{"series":"MW-21T","seg":1,"year":2012.142,"level":12.5},{"series":"MW-21T","seg":1,"year":2012.159,"level":10},{"series":"MW-21T","seg":1,"year":2012.176,"level":21},{"series":"MW-21T","seg":1,"year":2012.201,"level":26},{"series":"MW-21T","seg":1,"year":2012.227,"level":27.5},{"series":"MW-21T","seg":1,"year":2012.269,"level":29},{"series":"MW-21T","seg":1,"year":2012.312,"level":30.3},{"series":"MW-21T","seg":1,"year":2012.354,"level":29.5},{"series":"MW-21T","seg":1,"year":2012.397,"level":28.5},{"series":"MW-21T","seg":1,"year":2012.439,"level":29.5},{"series":"MW-21T","seg":1,"year":2012.482,"level":28.5},{"series":"MW-21T","seg":1,"year":2012.524,"level":27},{"series":"MW-21T","seg":1,"year":2012.575,"level":25.5},{"series":"MW-21T","seg":1,"year":2012.626,"level":23},{"series":"MW-21T","seg":1,"year":2012.694,"level":20.5},{"series":"MW-21T","seg":1,"year":2012.762,"level":19},{"series":"MW-21T","seg":1,"year":2012.805,"level":18.5},{"series":"MW-21T","seg":1,"year":2012.864,"level":19},{"series":"MW-21T","seg":1,"year":2012.949,"level":19.8},{"series":"MW-21T","seg":1,"year":2013.034,"level":20.3},{"series":"MW-21T","seg":1,"year":2013.102,"level":20},{"series":"MW-21T","seg":1,"year":2013.162,"level":21},{"series":"MW-21T","seg":1,"year":2013.221,"level":23.5},{"series":"MW-21T","seg":1,"year":2013.264,"level":24.5},{"series":"MW-21T","seg":1,"year":2013.306,"level":22.5},{"series":"MW-21T","seg":1,"year":2013.340,"level":21.5},{"series":"MW-21T","seg":1,"year":2013.391,"level":18},{"series":"MW-21T","seg":1,"year":2013.460,"level":15},{"series":"MW-21T","seg":1,"year":2013.528,"level":12.5},{"series":"MW-21T","seg":1,"year":2013.571,"level":11},{"series":"MW-21T","seg":1,"year":2013.630,"level":8.5},{"series":"MW-21T","seg":1,"year":2013.698,"level":6.5},{"series":"MW-21T","seg":1,"year":2013.758,"level":5},{"series":"MW-21T","seg":1,"year":2013.809,"level":4.6},{"series":"MW-21T","seg":1,"year":2013.851,"level":5},{"series":"MW-21T","seg":1,"year":2013.902,"level":6},{"series":"MW-21T","seg":1,"year":2013.970,"level":7.5},{"series":"MW-21T","seg":1,"year":2014.030,"level":8.5},{"series":"MW-21T","seg":1,"year":2014.098,"level":9},{"series":"MW-21T","seg":1,"year":2014.157,"level":9.8},{"series":"MW-21T","seg":1,"year":2014.200,"level":10.2},{"series":"MW-21T","seg":1,"year":2014.242,"level":9},{"series":"MW-21T","seg":1,"year":2014.285,"level":7},{"series":"MW-21T","seg":1,"year":2014.336,"level":5.5},{"series":"MW-21T","seg":1,"year":2014.378,"level":3.5},{"series":"MW-21T","seg":1,"year":2014.421,"level":2},
{"series":"MW-21T","seg":2,"year":2014.803,"level":-9.7},{"series":"MW-21T","seg":2,"year":2014.846,"level":-8},{"series":"MW-21T","seg":2,"year":2014.905,"level":-5},{"series":"MW-21T","seg":2,"year":2014.973,"level":-2.5},{"series":"MW-21T","seg":2,"year":2015.033,"level":-1.6},{"series":"MW-21T","seg":2,"year":2015.075,"level":0},{"series":"MW-21T","seg":2,"year":2015.135,"level":1.8},{"series":"MW-21T","seg":2,"year":2015.203,"level":3},{"series":"MW-21T","seg":2,"year":2015.262,"level":3.6},{"series":"MW-21T","seg":2,"year":2015.313,"level":3.6},{"series":"MW-21T","seg":2,"year":2015.373,"level":3},{"series":"MW-21T","seg":2,"year":2015.432,"level":2},{"series":"MW-21T","seg":2,"year":2015.500,"level":0.8},{"series":"MW-21T","seg":2,"year":2015.568,"level":-0.2},{"series":"MW-21T","seg":2,"year":2015.628,"level":-1.5},{"series":"MW-21T","seg":2,"year":2015.687,"level":-2.8},{"series":"MW-21T","seg":2,"year":2015.721,"level":-3},{"series":"MW-21T","seg":2,"year":2015.755,"level":-2},{"series":"MW-21T","seg":2,"year":2015.798,"level":-1.6},{"series":"MW-21T","seg":2,"year":2015.840,"level":-0.5},{"series":"MW-21T","seg":2,"year":2015.908,"level":0.7},{"series":"MW-21T","seg":2,"year":2015.968,"level":2},{"series":"MW-21T","seg":2,"year":2016.037,"level":3},{"series":"MW-21T","seg":2,"year":2016.096,"level":4},{"series":"MW-21T","seg":2,"year":2016.156,"level":5},{"series":"MW-21T","seg":2,"year":2016.224,"level":4.5},{"series":"MW-21T","seg":2,"year":2016.292,"level":3.8},{"series":"MW-21T","seg":2,"year":2016.351,"level":2.5},{"series":"MW-21T","seg":2,"year":2016.436,"level":1.2},{"series":"MW-21T","seg":2,"year":2016.504,"level":0.3},{"series":"MW-21T","seg":2,"year":2016.547,"level":0},{"series":"MW-21T","seg":2,"year":2016.606,"level":-1.5},{"series":"MW-21T","seg":2,"year":2016.674,"level":-3},{"series":"MW-21T","seg":2,"year":2016.734,"level":-4.2},{"series":"MW-21T","seg":2,"year":2016.785,"level":-4.5},{"series":"MW-21T","seg":2,"year":2016.827,"level":-3.5},{"series":"MW-21T","seg":2,"year":2016.878,"level":-1},{"series":"MW-21T","seg":2,"year":2016.929,"level":1.5},{"series":"MW-21T","seg":2,"year":2016.989,"level":4.5},{"series":"MW-21T","seg":2,"year":2017.048,"level":7},{"series":"MW-21T","seg":2,"year":2017.116,"level":9.5},{"series":"MW-21T","seg":2,"year":2017.176,"level":11.2},{"series":"MW-21T","seg":2,"year":2017.244,"level":10.8},{"series":"MW-21T","seg":2,"year":2017.329,"level":10.3},{"series":"MW-21T","seg":2,"year":2017.388,"level":9.5},{"series":"MW-21T","seg":2,"year":2017.456,"level":8.7},{"series":"MW-21T","seg":2,"year":2017.507,"level":8.5},{"series":"MW-21T","seg":2,"year":2017.558,"level":9},{"series":"MW-21T","seg":2,"year":2017.609,"level":11},{"series":"MW-21T","seg":2,"year":2017.652,"level":14},{"series":"MW-21T","seg":2,"year":2017.694,"level":17},{"series":"MW-21T","seg":2,"year":2017.754,"level":20},{"series":"MW-21T","seg":2,"year":2017.813,"level":24},{"series":"MW-21T","seg":2,"year":2017.864,"level":27},{"series":"MW-21T","seg":2,"year":2017.924,"level":29.5},{"series":"MW-21T","seg":2,"year":2017.983,"level":31.5},{"series":"MW-21T","seg":2,"year":2018.026,"level":30.8},{"series":"MW-21T","seg":2,"year":2018.077,"level":29.8},{"series":"MW-21T","seg":2,"year":2018.136,"level":29.3},{"series":"MW-21T","seg":2,"year":2018.204,"level":29.8},{"series":"MW-21T","seg":2,"year":2018.264,"level":30.2},{"series":"MW-21T","seg":2,"year":2018.323,"level":30},{"series":"MW-21T","seg":2,"year":2018.391,"level":29.5},{"series":"MW-21T","seg":2,"year":2018.459,"level":28},{"series":"MW-21T","seg":2,"year":2018.519,"level":27},{"series":"MW-21T","seg":2,"year":2018.579,"level":26},{"series":"MW-21T","seg":2,"year":2018.647,"level":25},{"series":"MW-21T","seg":2,"year":2018.715,"level":23.8},{"series":"MW-21T","seg":2,"year":2018.775,"level":23},{"series":"MW-21T","seg":2,"year":2018.826,"level":22.3},{"series":"MW-21T","seg":2,"year":2018.885,"level":22.5},{"series":"MW-21T","seg":2,"year":2018.945,"level":23},{"series":"MW-21T","seg":2,"year":2019.004,"level":23.4},{"series":"MW-21T","seg":2,"year":2019.055,"level":24},{"series":"MW-21T","seg":2,"year":2019.115,"level":25},{"series":"MW-21T","seg":2,"year":2019.174,"level":26},{"series":"MW-21T","seg":2,"year":2019.242,"level":26.8},{"series":"MW-21T","seg":2,"year":2019.327,"level":27.4}],
"mw29t": [
{"series":"MW-29T","seg":1,"year":2008.570,"level":-32.5},{"series":"MW-29T","seg":1,"year":2008.612,"level":-33.5},{"series":"MW-29T","seg":1,"year":2008.663,"level":-34.5},{"series":"MW-29T","seg":1,"year":2008.714,"level":-35.5},{"series":"MW-29T","seg":1,"year":2008.765,"level":-36},{"series":"MW-29T","seg":1,"year":2008.825,"level":-36.3},{"series":"MW-29T","seg":1,"year":2008.884,"level":-36.5},{"series":"MW-29T","seg":1,"year":2008.918,"level":-36.5},{"series":"MW-29T","seg":1,"year":2008.952,"level":-31},{"series":"MW-29T","seg":1,"year":2008.986,"level":-27},{"series":"MW-29T","seg":1,"year":2009.020,"level":-24},{"series":"MW-29T","seg":1,"year":2009.063,"level":-21},{"series":"MW-29T","seg":1,"year":2009.105,"level":-19},{"series":"MW-29T","seg":1,"year":2009.148,"level":-17.5},{"series":"MW-29T","seg":1,"year":2009.190,"level":-16},{"series":"MW-29T","seg":1,"year":2009.234,"level":-14},{"series":"MW-29T","seg":1,"year":2009.276,"level":-13},{"series":"MW-29T","seg":1,"year":2009.310,"level":-12.8},{"series":"MW-29T","seg":1,"year":2009.344,"level":-14},{"series":"MW-29T","seg":1,"year":2009.370,"level":-17},{"series":"MW-29T","seg":1,"year":2009.395,"level":-15},{"series":"MW-29T","seg":1,"year":2009.429,"level":-17},{"series":"MW-29T","seg":1,"year":2009.463,"level":-20},{"series":"MW-29T","seg":1,"year":2009.506,"level":-22},{"series":"MW-29T","seg":1,"year":2009.548,"level":-24},{"series":"MW-29T","seg":1,"year":2009.582,"level":-26.5},{"series":"MW-29T","seg":1,"year":2009.608,"level":-25},{"series":"MW-29T","seg":1,"year":2009.650,"level":-23},{"series":"MW-29T","seg":1,"year":2009.693,"level":-21},{"series":"MW-29T","seg":1,"year":2009.735,"level":-20},{"series":"MW-29T","seg":1,"year":2009.769,"level":-18.5},{"series":"MW-29T","seg":1,"year":2009.803,"level":-16},{"series":"MW-29T","seg":1,"year":2009.837,"level":-15},{"series":"MW-29T","seg":1,"year":2009.871,"level":-14},{"series":"MW-29T","seg":1,"year":2009.905,"level":-13.5},{"series":"MW-29T","seg":1,"year":2009.939,"level":-12.5},{"series":"MW-29T","seg":1,"year":2009.973,"level":-13},{"series":"MW-29T","seg":1,"year":2010.007,"level":-14},{"series":"MW-29T","seg":1,"year":2010.041,"level":-13},{"series":"MW-29T","seg":1,"year":2010.075,"level":-11},{"series":"MW-29T","seg":1,"year":2010.109,"level":-8.5},{"series":"MW-29T","seg":1,"year":2010.143,"level":-7.5},{"series":"MW-29T","seg":1,"year":2010.194,"level":-7},{"series":"MW-29T","seg":1,"year":2010.245,"level":-6.3},{"series":"MW-29T","seg":1,"year":2010.313,"level":-5.5},{"series":"MW-29T","seg":1,"year":2010.373,"level":-4.5},{"series":"MW-29T","seg":1,"year":2010.424,"level":-4.2},{"series":"MW-29T","seg":1,"year":2010.483,"level":-5.8},{"series":"MW-29T","seg":1,"year":2010.543,"level":-7.5},{"series":"MW-29T","seg":1,"year":2010.585,"level":-9},{"series":"MW-29T","seg":1,"year":2010.628,"level":-11},{"series":"MW-29T","seg":1,"year":2010.670,"level":-11.7},{"series":"MW-29T","seg":1,"year":2010.721,"level":-12},{"series":"MW-29T","seg":1,"year":2010.772,"level":-11.5},{"series":"MW-29T","seg":1,"year":2010.823,"level":-12},{"series":"MW-29T","seg":1,"year":2010.866,"level":-12.2},{"series":"MW-29T","seg":1,"year":2010.909,"level":-11},{"series":"MW-29T","seg":1,"year":2010.935,"level":-7},{"series":"MW-29T","seg":1,"year":2010.960,"level":-2},{"series":"MW-29T","seg":1,"year":2010.994,"level":1.5},{"series":"MW-29T","seg":1,"year":2011.037,"level":4.5},{"series":"MW-29T","seg":1,"year":2011.079,"level":6.5},{"series":"MW-29T","seg":1,"year":2011.122,"level":7},{"series":"MW-29T","seg":1,"year":2011.164,"level":6.5},{"series":"MW-29T","seg":1,"year":2011.190,"level":6.2},{"series":"MW-29T","seg":1,"year":2011.232,"level":7},{"series":"MW-29T","seg":1,"year":2011.292,"level":8.5},{"series":"MW-29T","seg":1,"year":2011.351,"level":9.5},{"series":"MW-29T","seg":1,"year":2011.419,"level":10.3},{"series":"MW-29T","seg":1,"year":2011.487,"level":9},{"series":"MW-29T","seg":1,"year":2011.547,"level":8.5},{"series":"MW-29T","seg":1,"year":2011.632,"level":9},{"series":"MW-29T","seg":1,"year":2011.717,"level":9.5},{"series":"MW-29T","seg":1,"year":2011.802,"level":10},{"series":"MW-29T","seg":1,"year":2011.861,"level":10.5},{"series":"MW-29T","seg":1,"year":2011.912,"level":12.5},{"series":"MW-29T","seg":1,"year":2011.955,"level":14.5},{"series":"MW-29T","seg":1,"year":2011.997,"level":16},{"series":"MW-29T","seg":1,"year":2012.040,"level":17.5},{"series":"MW-29T","seg":1,"year":2012.082,"level":18.5},{"series":"MW-29T","seg":1,"year":2012.125,"level":18},{"series":"MW-29T","seg":1,"year":2012.159,"level":17.5},{"series":"MW-29T","seg":1,"year":2012.193,"level":20},{"series":"MW-29T","seg":1,"year":2012.227,"level":22.7},{"series":"MW-29T","seg":1,"year":2012.269,"level":24.5},{"series":"MW-29T","seg":1,"year":2012.312,"level":25.2},{"series":"MW-29T","seg":1,"year":2012.354,"level":25},{"series":"MW-29T","seg":1,"year":2012.388,"level":23},{"series":"MW-29T","seg":1,"year":2012.422,"level":21.5},{"series":"MW-29T","seg":1,"year":2012.456,"level":20.5},{"series":"MW-29T","seg":1,"year":2012.490,"level":19.5},{"series":"MW-29T","seg":1,"year":2012.524,"level":18.5},{"series":"MW-29T","seg":1,"year":2012.567,"level":17},{"series":"MW-29T","seg":1,"year":2012.609,"level":13},{"series":"MW-29T","seg":1,"year":2012.652,"level":9},{"series":"MW-29T","seg":1,"year":2012.694,"level":6},{"series":"MW-29T","seg":1,"year":2012.737,"level":3.5},{"series":"MW-29T","seg":1,"year":2012.779,"level":1.5},{"series":"MW-29T","seg":1,"year":2012.822,"level":1},{"series":"MW-29T","seg":1,"year":2012.864,"level":1.5},{"series":"MW-29T","seg":1,"year":2012.907,"level":4},{"series":"MW-29T","seg":1,"year":2012.949,"level":6},{"series":"MW-29T","seg":1,"year":2012.992,"level":7.5},{"series":"MW-29T","seg":1,"year":2013.034,"level":8.5},{"series":"MW-29T","seg":1,"year":2013.077,"level":9},{"series":"MW-29T","seg":1,"year":2013.119,"level":9.5},{"series":"MW-29T","seg":1,"year":2013.162,"level":10.5},{"series":"MW-29T","seg":1,"year":2013.204,"level":14},{"series":"MW-29T","seg":1,"year":2013.238,"level":17.5},{"series":"MW-29T","seg":1,"year":2013.264,"level":19},{"series":"MW-29T","seg":1,"year":2013.289,"level":15},{"series":"MW-29T","seg":1,"year":2013.323,"level":10},{"series":"MW-29T","seg":1,"year":2013.357,"level":5},{"series":"MW-29T","seg":1,"year":2013.391,"level":0},{"series":"MW-29T","seg":1,"year":2013.426,"level":-3},{"series":"MW-29T","seg":1,"year":2013.460,"level":-5},{"series":"MW-29T","seg":1,"year":2013.503,"level":-7},{"series":"MW-29T","seg":1,"year":2013.545,"level":-8},{"series":"MW-29T","seg":1,"year":2013.588,"level":-11},{"series":"MW-29T","seg":1,"year":2013.630,"level":-13},{"series":"MW-29T","seg":1,"year":2013.673,"level":-15},{"series":"MW-29T","seg":1,"year":2013.715,"level":-16.5},{"series":"MW-29T","seg":1,"year":2013.758,"level":-17},{"series":"MW-29T","seg":1,"year":2013.783,"level":-14},{"series":"MW-29T","seg":1,"year":2013.817,"level":-10},{"series":"MW-29T","seg":1,"year":2013.851,"level":-6},{"series":"MW-29T","seg":1,"year":2013.885,"level":-3},{"series":"MW-29T","seg":1,"year":2013.928,"level":-1.5},{"series":"MW-29T","seg":1,"year":2013.970,"level":-1},{"series":"MW-29T","seg":1,"year":2014.013,"level":-0.5},{"series":"MW-29T","seg":1,"year":2014.055,"level":0.5},{"series":"MW-29T","seg":1,"year":2014.098,"level":1.5},{"series":"MW-29T","seg":1,"year":2014.140,"level":2.5},{"series":"MW-29T","seg":1,"year":2014.183,"level":4},{"series":"MW-29T","seg":1,"year":2014.208,"level":3},{"series":"MW-29T","seg":1,"year":2014.242,"level":0},{"series":"MW-29T","seg":1,"year":2014.276,"level":-3},{"series":"MW-29T","seg":1,"year":2014.310,"level":-6},{"series":"MW-29T","seg":1,"year":2014.353,"level":-9},{"series":"MW-29T","seg":1,"year":2014.395,"level":-12},{"series":"MW-29T","seg":1,"year":2014.438,"level":-15},{"series":"MW-29T","seg":1,"year":2014.480,"level":-18},{"series":"MW-29T","seg":1,"year":2014.523,"level":-20},{"series":"MW-29T","seg":1,"year":2014.531,"level":-21},{"series":"MW-29T","seg":1,"year":2014.540,"level":-37},{"series":"MW-29T","seg":1,"year":2014.548,"level":-21.5},{"series":"MW-29T","seg":1,"year":2014.582,"level":-22},{"series":"MW-29T","seg":1,"year":2014.616,"level":-22.5},{"series":"MW-29T","seg":1,"year":2014.650,"level":-23},{"series":"MW-29T","seg":1,"year":2014.667,"level":-49.4},{"series":"MW-29T","seg":1,"year":2014.676,"level":-23.5},{"series":"MW-29T","seg":1,"year":2014.718,"level":-24},{"series":"MW-29T","seg":1,"year":2014.752,"level":-24.3},{"series":"MW-29T","seg":1,"year":2014.778,"level":-24.5},{"series":"MW-29T","seg":1,"year":2014.786,"level":-55},{"series":"MW-29T","seg":1,"year":2014.795,"level":-25},{"series":"MW-29T","seg":1,"year":2014.803,"level":-26},{"series":"MW-29T","seg":1,"year":2014.812,"level":-55},{"series":"MW-29T","seg":1,"year":2014.820,"level":-24},{"series":"MW-29T","seg":1,"year":2014.829,"level":-50},{"series":"MW-29T","seg":1,"year":2014.837,"level":-20},{"series":"MW-29T","seg":1,"year":2014.846,"level":-45},{"series":"MW-29T","seg":1,"year":2014.854,"level":-16},{"series":"MW-29T","seg":1,"year":2014.871,"level":-13},{"series":"MW-29T","seg":1,"year":2014.880,"level":-48},{"series":"MW-29T","seg":1,"year":2014.897,"level":-11.7},{"series":"MW-29T","seg":1,"year":2014.905,"level":-48.5},{"series":"MW-29T","seg":1,"year":2014.922,"level":-9},{"series":"MW-29T","seg":1,"year":2014.931,"level":-45},{"series":"MW-29T","seg":1,"year":2014.948,"level":-6},{"series":"MW-29T","seg":1,"year":2014.956,"level":-46},{"series":"MW-29T","seg":1,"year":2014.973,"level":-3},{"series":"MW-29T","seg":1,"year":2014.982,"level":-48.7},{"series":"MW-29T","seg":1,"year":2014.999,"level":-1.5},{"series":"MW-29T","seg":1,"year":2015.007,"level":-47},{"series":"MW-29T","seg":1,"year":2015.024,"level":-1},{"series":"MW-29T","seg":1,"year":2015.033,"level":-49},{"series":"MW-29T","seg":1,"year":2015.050,"level":-1},{"series":"MW-29T","seg":1,"year":2015.058,"level":-40},{"series":"MW-29T","seg":1,"year":2015.075,"level":-0.9},{"series":"MW-29T","seg":1,"year":2015.084,"level":-38},{"series":"MW-29T","seg":1,"year":2015.101,"level":-1},{"series":"MW-29T","seg":1,"year":2015.109,"level":-40},{"series":"MW-29T","seg":1,"year":2015.126,"level":-1.5},{"series":"MW-29T","seg":1,"year":2015.135,"level":-38.2},{"series":"MW-29T","seg":1,"year":2015.152,"level":-1},{"series":"MW-29T","seg":1,"year":2015.160,"level":-42},{"series":"MW-29T","seg":1,"year":2015.177,"level":-1.5},{"series":"MW-29T","seg":1,"year":2015.186,"level":-40},{"series":"MW-29T","seg":1,"year":2015.203,"level":-2},{"series":"MW-29T","seg":1,"year":2015.211,"level":-44},{"series":"MW-29T","seg":1,"year":2015.228,"level":-3},{"series":"MW-29T","seg":1,"year":2015.237,"level":-45},{"series":"MW-29T","seg":1,"year":2015.254,"level":-2},{"series":"MW-29T","seg":1,"year":2015.262,"level":-43},{"series":"MW-29T","seg":1,"year":2015.279,"level":-3},{"series":"MW-29T","seg":1,"year":2015.288,"level":-45},{"series":"MW-29T","seg":1,"year":2015.305,"level":-4},{"series":"MW-29T","seg":1,"year":2015.313,"level":-39},{"series":"MW-29T","seg":1,"year":2015.330,"level":-4.3},{"series":"MW-29T","seg":1,"year":2015.339,"level":-40},{"series":"MW-29T","seg":1,"year":2015.356,"level":-5},{"series":"MW-29T","seg":1,"year":2015.364,"level":-39},{"series":"MW-29T","seg":1,"year":2015.381,"level":-30},{"series":"MW-29T","seg":1,"year":2015.398,"level":-32},{"series":"MW-29T","seg":1,"year":2015.415,"level":-40},{"series":"MW-29T","seg":1,"year":2015.432,"level":-48},{"series":"MW-29T","seg":1,"year":2015.449,"level":-52.4},{"series":"MW-29T","seg":1,"year":2015.466,"level":-55},{"series":"MW-29T","seg":1,"year":2015.483,"level":-56},{"series":"MW-29T","seg":1,"year":2015.500,"level":-57},{"series":"MW-29T","seg":1,"year":2015.517,"level":-58},{"series":"MW-29T","seg":1,"year":2015.534,"level":-58.5},{"series":"MW-29T","seg":1,"year":2015.551,"level":-58},{"series":"MW-29T","seg":1,"year":2015.568,"level":-16},{"series":"MW-29T","seg":1,"year":2015.577,"level":-58.5},{"series":"MW-29T","seg":1,"year":2015.602,"level":-59},{"series":"MW-29T","seg":1,"year":2015.628,"level":-60},{"series":"MW-29T","seg":1,"year":2015.645,"level":-13},{"series":"MW-29T","seg":1,"year":2015.653,"level":-60.6},{"series":"MW-29T","seg":1,"year":2015.670,"level":-44},{"series":"MW-29T","seg":1,"year":2015.687,"level":-42},{"series":"MW-29T","seg":1,"year":2015.704,"level":-44},{"series":"MW-29T","seg":1,"year":2015.721,"level":-40},{"series":"MW-29T","seg":1,"year":2015.738,"level":-42},{"series":"MW-29T","seg":1,"year":2015.764,"level":-40},{"series":"MW-29T","seg":1,"year":2015.789,"level":-25},{"series":"MW-29T","seg":1,"year":2015.798,"level":-16},{"series":"MW-29T","seg":1,"year":2015.806,"level":-30},{"series":"MW-29T","seg":1,"year":2015.823,"level":-18.5},{"series":"MW-29T","seg":1,"year":2015.832,"level":-32},{"series":"MW-29T","seg":1,"year":2015.849,"level":-17},{"series":"MW-29T","seg":1,"year":2015.857,"level":-28},{"series":"MW-29T","seg":1,"year":2015.874,"level":-12},{"series":"MW-29T","seg":1,"year":2015.883,"level":-42.3},{"series":"MW-29T","seg":1,"year":2015.900,"level":-20},{"series":"MW-29T","seg":1,"year":2015.908,"level":-42},{"series":"MW-29T","seg":1,"year":2015.925,"level":-15},{"series":"MW-29T","seg":1,"year":2015.934,"level":-40},{"series":"MW-29T","seg":1,"year":2015.951,"level":-42},{"series":"MW-29T","seg":1,"year":2015.968,"level":-5},{"series":"MW-29T","seg":1,"year":2015.976,"level":-39},{"series":"MW-29T","seg":1,"year":2015.993,"level":-40},{"series":"MW-29T","seg":1,"year":2016.011,"level":-38.9},{"series":"MW-29T","seg":1,"year":2016.037,"level":-5},{"series":"MW-29T","seg":1,"year":2016.045,"level":-39},{"series":"MW-29T","seg":1,"year":2016.062,"level":-40},
{"series":"MW-29T","seg":2,"year":2016.555,"level":-55},{"series":"MW-29T","seg":2,"year":2016.581,"level":-57},{"series":"MW-29T","seg":2,"year":2016.598,"level":-13},{"series":"MW-29T","seg":2,"year":2016.606,"level":-58},{"series":"MW-29T","seg":2,"year":2016.623,"level":-55},{"series":"MW-29T","seg":2,"year":2016.632,"level":-14},{"series":"MW-29T","seg":2,"year":2016.640,"level":-56},{"series":"MW-29T","seg":2,"year":2016.666,"level":-60},{"series":"MW-29T","seg":2,"year":2016.674,"level":-17},{"series":"MW-29T","seg":2,"year":2016.683,"level":-59},{"series":"MW-29T","seg":2,"year":2016.708,"level":-62},{"series":"MW-29T","seg":2,"year":2016.734,"level":-62.5},{"series":"MW-29T","seg":2,"year":2016.759,"level":-61},{"series":"MW-29T","seg":2,"year":2016.785,"level":-62},{"series":"MW-29T","seg":2,"year":2016.810,"level":-60},{"series":"MW-29T","seg":2,"year":2016.827,"level":-55},{"series":"MW-29T","seg":2,"year":2016.844,"level":-56},{"series":"MW-29T","seg":2,"year":2016.861,"level":-15},{"series":"MW-29T","seg":2,"year":2016.870,"level":-55},{"series":"MW-29T","seg":2,"year":2016.887,"level":-1},{"series":"MW-29T","seg":2,"year":2016.895,"level":-50},{"series":"MW-29T","seg":2,"year":2016.912,"level":2},{"series":"MW-29T","seg":2,"year":2016.920,"level":-53},{"series":"MW-29T","seg":2,"year":2016.929,"level":-1.5},{"series":"MW-29T","seg":2,"year":2016.937,"level":-52},{"series":"MW-29T","seg":2,"year":2016.954,"level":4},{"series":"MW-29T","seg":2,"year":2016.963,"level":-54.5},{"series":"MW-29T","seg":2,"year":2016.971,"level":0},{"series":"MW-29T","seg":2,"year":2016.980,"level":-50},{"series":"MW-29T","seg":2,"year":2016.997,"level":3},{"series":"MW-29T","seg":2,"year":2017.006,"level":-49},{"series":"MW-29T","seg":2,"year":2017.014,"level":-1},{"series":"MW-29T","seg":2,"year":2017.023,"level":-48},{"series":"MW-29T","seg":2,"year":2017.040,"level":5},{"series":"MW-29T","seg":2,"year":2017.048,"level":-45},{"series":"MW-29T","seg":2,"year":2017.065,"level":8},{"series":"MW-29T","seg":2,"year":2017.074,"level":-42},{"series":"MW-29T","seg":2,"year":2017.091,"level":10.7},{"series":"MW-29T","seg":2,"year":2017.099,"level":-40},{"series":"MW-29T","seg":2,"year":2017.116,"level":6},{"series":"MW-29T","seg":2,"year":2017.125,"level":-41},{"series":"MW-29T","seg":2,"year":2017.142,"level":10},{"series":"MW-29T","seg":2,"year":2017.150,"level":-39},{"series":"MW-29T","seg":2,"year":2017.167,"level":5},{"series":"MW-29T","seg":2,"year":2017.176,"level":-42},{"series":"MW-29T","seg":2,"year":2017.193,"level":9},{"series":"MW-29T","seg":2,"year":2017.201,"level":-40},{"series":"MW-29T","seg":2,"year":2017.218,"level":6},{"series":"MW-29T","seg":2,"year":2017.227,"level":-39},{"series":"MW-29T","seg":2,"year":2017.244,"level":10.7},{"series":"MW-29T","seg":2,"year":2017.252,"level":-41},{"series":"MW-29T","seg":2,"year":2017.269,"level":5},{"series":"MW-29T","seg":2,"year":2017.278,"level":-40},{"series":"MW-29T","seg":2,"year":2017.295,"level":4.6},{"series":"MW-29T","seg":2,"year":2017.303,"level":-38},{"series":"MW-29T","seg":2,"year":2017.320,"level":5.9},{"series":"MW-29T","seg":2,"year":2017.329,"level":-35},{"series":"MW-29T","seg":2,"year":2017.346,"level":-32},{"series":"MW-29T","seg":2,"year":2017.354,"level":5.5},{"series":"MW-29T","seg":2,"year":2017.363,"level":-39},{"series":"MW-29T","seg":2,"year":2017.380,"level":5.9},{"series":"MW-29T","seg":2,"year":2017.388,"level":-33},{"series":"MW-29T","seg":2,"year":2017.414,"level":-31},{"series":"MW-29T","seg":2,"year":2017.439,"level":-35},{"series":"MW-29T","seg":2,"year":2017.465,"level":-33},{"series":"MW-29T","seg":2,"year":2017.482,"level":-36},{"series":"MW-29T","seg":2,"year":2017.499,"level":-49},{"series":"MW-29T","seg":2,"year":2017.516,"level":-45},{"series":"MW-29T","seg":2,"year":2017.533,"level":-48},{"series":"MW-29T","seg":2,"year":2017.550,"level":-20.5},{"series":"MW-29T","seg":2,"year":2017.558,"level":-47},{"series":"MW-29T","seg":2,"year":2017.575,"level":-45},{"series":"MW-29T","seg":2,"year":2017.601,"level":-49},{"series":"MW-29T","seg":2,"year":2017.626,"level":-44},{"series":"MW-29T","seg":2,"year":2017.652,"level":-46},{"series":"MW-29T","seg":2,"year":2017.677,"level":-42},{"series":"MW-29T","seg":2,"year":2017.694,"level":-35},{"series":"MW-29T","seg":2,"year":2017.711,"level":-29.4},{"series":"MW-29T","seg":2,"year":2017.737,"level":-25},{"series":"MW-29T","seg":2,"year":2017.762,"level":-18.5},{"series":"MW-29T","seg":2,"year":2017.771,"level":20},{"series":"MW-29T","seg":2,"year":2017.779,"level":-15},{"series":"MW-29T","seg":2,"year":2017.796,"level":22},{"series":"MW-29T","seg":2,"year":2017.805,"level":-15},{"series":"MW-29T","seg":2,"year":2017.822,"level":20},{"series":"MW-29T","seg":2,"year":2017.830,"level":-15},{"series":"MW-29T","seg":2,"year":2017.847,"level":-9},{"series":"MW-29T","seg":2,"year":2017.873,"level":-10},{"series":"MW-29T","seg":2,"year":2017.898,"level":-11.7},{"series":"MW-29T","seg":2,"year":2017.924,"level":-9},{"series":"MW-29T","seg":2,"year":2017.949,"level":-8},{"series":"MW-29T","seg":2,"year":2017.966,"level":-7},{"series":"MW-29T","seg":2,"year":2017.983,"level":33.4},{"series":"MW-29T","seg":2,"year":2017.992,"level":-6.3},{"series":"MW-29T","seg":2,"year":2018.017,"level":-5.6},{"series":"MW-29T","seg":2,"year":2018.043,"level":-7},{"series":"MW-29T","seg":2,"year":2018.068,"level":-6},{"series":"MW-29T","seg":2,"year":2018.094,"level":-7.7},{"series":"MW-29T","seg":2,"year":2018.111,"level":25.6},{"series":"MW-29T","seg":2,"year":2018.119,"level":-7},{"series":"MW-29T","seg":2,"year":2018.136,"level":25},{"series":"MW-29T","seg":2,"year":2018.145,"level":-7.5},{"series":"MW-29T","seg":2,"year":2018.170,"level":-8},{"series":"MW-29T","seg":2,"year":2018.196,"level":-7.5},{"series":"MW-29T","seg":2,"year":2018.213,"level":25.3},{"series":"MW-29T","seg":2,"year":2018.221,"level":-8},{"series":"MW-29T","seg":2,"year":2018.238,"level":-7},{"series":"MW-29T","seg":2,"year":2018.264,"level":25.6},{"series":"MW-29T","seg":2,"year":2018.272,"level":-8.3},{"series":"MW-29T","seg":2,"year":2018.298,"level":25.3},{"series":"MW-29T","seg":2,"year":2018.306,"level":-8},{"series":"MW-29T","seg":2,"year":2018.323,"level":-8},{"series":"MW-29T","seg":2,"year":2018.357,"level":-10},{"series":"MW-29T","seg":2,"year":2018.391,"level":-12.4},{"series":"MW-29T","seg":2,"year":2018.425,"level":-11},{"series":"MW-29T","seg":2,"year":2018.459,"level":-13},{"series":"MW-29T","seg":2,"year":2018.494,"level":-14},{"series":"MW-29T","seg":2,"year":2018.528,"level":-16},{"series":"MW-29T","seg":2,"year":2018.562,"level":-17},{"series":"MW-29T","seg":2,"year":2018.596,"level":-15},{"series":"MW-29T","seg":2,"year":2018.630,"level":-20},{"series":"MW-29T","seg":2,"year":2018.664,"level":-21},{"series":"MW-29T","seg":2,"year":2018.698,"level":-28},{"series":"MW-29T","seg":2,"year":2018.715,"level":-30},{"series":"MW-29T","seg":2,"year":2018.724,"level":-32.8},{"series":"MW-29T","seg":2,"year":2018.732,"level":13.4},{"series":"MW-29T","seg":2,"year":2018.741,"level":-28},{"series":"MW-29T","seg":2,"year":2018.758,"level":-30},{"series":"MW-29T","seg":2,"year":2018.775,"level":12},{"series":"MW-29T","seg":2,"year":2018.783,"level":-38},{"series":"MW-29T","seg":2,"year":2018.800,"level":11},{"series":"MW-29T","seg":2,"year":2018.809,"level":-39},{"series":"MW-29T","seg":2,"year":2018.826,"level":13},{"series":"MW-29T","seg":2,"year":2018.834,"level":-41},{"series":"MW-29T","seg":2,"year":2018.843,"level":12},{"series":"MW-29T","seg":2,"year":2018.851,"level":-40},{"series":"MW-29T","seg":2,"year":2018.868,"level":13},{"series":"MW-29T","seg":2,"year":2018.877,"level":-39},{"series":"MW-29T","seg":2,"year":2018.885,"level":10},{"series":"MW-29T","seg":2,"year":2018.894,"level":-40.9},{"series":"MW-29T","seg":2,"year":2018.911,"level":-39.5},{"series":"MW-29T","seg":2,"year":2018.936,"level":-40},{"series":"MW-29T","seg":2,"year":2018.962,"level":-53},{"series":"MW-29T","seg":2,"year":2018.970,"level":-45},{"series":"MW-29T","seg":2,"year":2018.979,"level":-52},{"series":"MW-29T","seg":2,"year":2018.987,"level":-40},{"series":"MW-29T","seg":2,"year":2018.996,"level":5.2},{"series":"MW-29T","seg":2,"year":2019.004,"level":-45},{"series":"MW-29T","seg":2,"year":2019.013,"level":4},{"series":"MW-29T","seg":2,"year":2019.021,"level":-45.6},{"series":"MW-29T","seg":2,"year":2019.030,"level":5},{"series":"MW-29T","seg":2,"year":2019.038,"level":-44},{"series":"MW-29T","seg":2,"year":2019.055,"level":20.2},{"series":"MW-29T","seg":2,"year":2019.064,"level":-33},{"series":"MW-29T","seg":2,"year":2019.081,"level":20},{"series":"MW-29T","seg":2,"year":2019.089,"level":-33},{"series":"MW-29T","seg":2,"year":2019.115,"level":20.5},{"series":"MW-29T","seg":2,"year":2019.123,"level":-32},{"series":"MW-29T","seg":2,"year":2019.140,"level":20.5},{"series":"MW-29T","seg":2,"year":2019.149,"level":-33.4},{"series":"MW-29T","seg":2,"year":2019.183,"level":22.5},{"series":"MW-29T","seg":2,"year":2019.191,"level":-32},{"series":"MW-29T","seg":2,"year":2019.217,"level":22.5},{"series":"MW-29T","seg":2,"year":2019.225,"level":-33},{"series":"MW-29T","seg":2,"year":2019.234,"level":1.2},{"series":"MW-29T","seg":2,"year":2019.242,"level":-33},{"series":"MW-29T","seg":2,"year":2019.268,"level":-31.4},{"series":"MW-29T","seg":2,"year":2019.293,"level":-34},{"series":"MW-29T","seg":2,"year":2019.310,"level":-33},{"series":"MW-29T","seg":2,"year":2019.327,"level":-36}],
"ew02m": [
{"series":"EW-02M","year":2010.143,"level":-11.2},{"series":"EW-02M","year":2010.228,"level":-9.6},{"series":"EW-02M","year":2010.313,"level":-9.6},{"series":"EW-02M","year":2010.398,"level":-10.7},{"series":"EW-02M","year":2010.483,"level":-10.7},{"series":"EW-02M","year":2010.585,"level":-12.3},{"series":"EW-02M","year":2010.636,"level":-17.7},{"series":"EW-02M","year":2010.781,"level":-20.3},{"series":"EW-02M","year":2010.866,"level":-20.3},{"series":"EW-02M","year":2010.952,"level":-10.7},{"series":"EW-02M","year":2010.994,"level":-5.3},{"series":"EW-02M","year":2011.037,"level":-2.9},{"series":"EW-02M","year":2011.122,"level":2.2},{"series":"EW-02M","year":2011.164,"level":-0.5},{"series":"EW-02M","year":2011.224,"level":-1.5},{"series":"EW-02M","year":2011.292,"level":0},{"series":"EW-02M","year":2011.377,"level":4.4},{"series":"EW-02M","year":2011.504,"level":2.4},{"series":"EW-02M","year":2011.589,"level":2.4},{"series":"EW-02M","year":2011.657,"level":2.2},{"series":"EW-02M","year":2011.759,"level":3.8},{"series":"EW-02M","year":2011.844,"level":6.6},{"series":"EW-02M","year":2011.887,"level":8.7},{"series":"EW-02M","year":2011.972,"level":10.3},{"series":"EW-02M","year":2012.099,"level":12},{"series":"EW-02M","year":2012.167,"level":14.1},{"series":"EW-02M","year":2012.269,"level":19},{"series":"EW-02M","year":2012.329,"level":20},{"series":"EW-02M","year":2012.397,"level":15.2},{"series":"EW-02M","year":2012.465,"level":14.7},{"series":"EW-02M","year":2012.550,"level":6.6},{"series":"EW-02M","year":2012.609,"level":7},{"series":"EW-02M","year":2012.652,"level":0.4},{"series":"EW-02M","year":2012.737,"level":0},{"series":"EW-02M","year":2012.796,"level":-4.5},{"series":"EW-02M","year":2012.864,"level":-4},{"series":"EW-02M","year":2012.949,"level":-0.2},{"series":"EW-02M","year":2013.077,"level":3.6},{"series":"EW-02M","year":2013.136,"level":5.3},{"series":"EW-02M","year":2013.204,"level":7.7},{"series":"EW-02M","year":2013.315,"level":3.1},{"series":"EW-02M","year":2013.417,"level":-3.5},{"series":"EW-02M","year":2013.460,"level":-6.2},{"series":"EW-02M","year":2013.562,"level":-14.4},{"series":"EW-02M","year":2013.630,"level":-17.1},{"series":"EW-02M","year":2013.715,"level":-20.5},{"series":"EW-02M","year":2013.843,"level":-9.1},{"series":"EW-02M","year":2013.928,"level":-9.6},{"series":"EW-02M","year":2014.013,"level":-6.9},{"series":"EW-02M","year":2014.098,"level":-6.9},{"series":"EW-02M","year":2014.157,"level":-4.8},{"series":"EW-02M","year":2014.310,"level":-6.9},{"series":"EW-02M","year":2014.353,"level":-7.5},{"series":"EW-02M","year":2014.480,"level":-13.9},{"series":"EW-02M","year":2014.608,"level":-19.3},{"series":"EW-02M","year":2014.693,"level":-21.4},{"series":"EW-02M","year":2014.778,"level":-29},{"series":"EW-02M","year":2014.905,"level":-15},{"series":"EW-02M","year":2014.990,"level":-17},{"series":"EW-02M","year":2015.101,"level":-16},{"series":"EW-02M","year":2015.203,"level":-5.3},{"series":"EW-02M","year":2015.288,"level":-9.6},{"series":"EW-02M","year":2015.330,"level":-13.4},{"series":"EW-02M","year":2015.373,"level":-14.5},{"series":"EW-02M","year":2015.415,"level":-15.5},{"series":"EW-02M","year":2015.458,"level":-16},{"series":"EW-02M","year":2015.500,"level":-17},{"series":"EW-02M","year":2015.543,"level":-18.3},{"series":"EW-02M","year":2015.585,"level":-19.5},{"series":"EW-02M","year":2015.628,"level":-20.3},{"series":"EW-02M","year":2015.670,"level":-21},{"series":"EW-02M","year":2015.713,"level":-21.9},{"series":"EW-02M","year":2015.772,"level":-20.3},{"series":"EW-02M","year":2015.883,"level":-14.4},{"series":"EW-02M","year":2015.968,"level":-9.6},{"series":"EW-02M","year":2016.054,"level":-6.9},{"series":"EW-02M","year":2016.139,"level":-5.9},{"series":"EW-02M","year":2016.198,"level":-8.5},{"series":"EW-02M","year":2016.266,"level":-10.7},{"series":"EW-02M","year":2016.309,"level":-12.5},{"series":"EW-02M","year":2016.368,"level":-15},{"series":"EW-02M","year":2016.402,"level":-15.8},{"series":"EW-02M","year":2016.436,"level":-16.6},{"series":"EW-02M","year":2016.479,"level":-18},{"series":"EW-02M","year":2016.521,"level":-19.3},{"series":"EW-02M","year":2016.564,"level":-19.5},{"series":"EW-02M","year":2016.606,"level":-19.8},{"series":"EW-02M","year":2016.649,"level":-19.8},{"series":"EW-02M","year":2016.691,"level":-19.8},{"series":"EW-02M","year":2016.759,"level":-25.2},{"series":"EW-02M","year":2016.810,"level":-19.3},{"series":"EW-02M","year":2016.861,"level":-16},{"series":"EW-02M","year":2016.946,"level":-7.4},{"series":"EW-02M","year":2017.031,"level":-3.1},{"series":"EW-02M","year":2017.116,"level":-2},{"series":"EW-02M","year":2017.201,"level":2.8},{"series":"EW-02M","year":2017.286,"level":2.2},{"series":"EW-02M","year":2017.371,"level":-3.1},{"series":"EW-02M","year":2017.456,"level":-5.3},{"series":"EW-02M","year":2017.516,"level":-20.5},{"series":"EW-02M","year":2017.584,"level":-3.5},{"series":"EW-02M","year":2017.652,"level":2.8},{"series":"EW-02M","year":2017.711,"level":13},{"series":"EW-02M","year":2017.754,"level":16},{"series":"EW-02M","year":2017.796,"level":18.4},{"series":"EW-02M","year":2017.830,"level":20},{"series":"EW-02M","year":2017.864,"level":21.6},{"series":"EW-02M","year":2017.898,"level":24},{"series":"EW-02M","year":2017.924,"level":26.5},{"series":"EW-02M","year":2017.966,"level":26},{"series":"EW-02M","year":2018.009,"level":26},{"series":"EW-02M","year":2018.051,"level":22.2},{"series":"EW-02M","year":2018.094,"level":21},{"series":"EW-02M","year":2018.136,"level":20.2},{"series":"EW-02M","year":2018.179,"level":20.5},{"series":"EW-02M","year":2018.221,"level":20.2},{"series":"EW-02M","year":2018.264,"level":20.5},{"series":"EW-02M","year":2018.306,"level":20.7},{"series":"EW-02M","year":2018.349,"level":19},{"series":"EW-02M","year":2018.391,"level":17.4},{"series":"EW-02M","year":2018.434,"level":17},{"series":"EW-02M","year":2018.477,"level":16.3},{"series":"EW-02M","year":2018.519,"level":15},{"series":"EW-02M","year":2018.562,"level":14.1},{"series":"EW-02M","year":2018.604,"level":13},{"series":"EW-02M","year":2018.647,"level":12},{"series":"EW-02M","year":2018.689,"level":11.5},{"series":"EW-02M","year":2018.732,"level":10.9},{"series":"EW-02M","year":2018.775,"level":10.5},{"series":"EW-02M","year":2018.817,"level":10.3},{"series":"EW-02M","year":2018.860,"level":9.8},{"series":"EW-02M","year":2018.902,"level":9},{"series":"EW-02M","year":2018.945,"level":8.2},{"series":"EW-02M","year":2018.987,"level":8.5},{"series":"EW-02M","year":2019.030,"level":10.3},{"series":"EW-02M","year":2019.072,"level":15.2},{"series":"EW-02M","year":2019.157,"level":18.4},{"series":"EW-02M","year":2019.242,"level":16.8},{"series":"EW-02M","year":2019.310,"level":16}],
"ew01m": [
{"series":"EW-01M","year":2008.425,"level":-20.4},{"series":"EW-01M","year":2008.451,"level":-21.7},{"series":"EW-01M","year":2008.510,"level":-24.5},{"series":"EW-01M","year":2008.527,"level":-26.8},{"series":"EW-01M","year":2008.570,"level":-27.9},{"series":"EW-01M","year":2008.638,"level":-30.8},{"series":"EW-01M","year":2008.969,"level":-24.9},{"series":"EW-01M","year":2009.020,"level":-24.5},{"series":"EW-01M","year":2009.148,"level":-17.1},{"series":"EW-01M","year":2009.310,"level":-11.4},{"series":"EW-01M","year":2009.344,"level":-12},{"series":"EW-01M","year":2009.387,"level":-13.9},{"series":"EW-01M","year":2009.463,"level":-16},{"series":"EW-01M","year":2009.820,"level":-17.7},{"series":"EW-01M","year":2009.973,"level":-12.3},{"series":"EW-01M","year":2010.041,"level":-12.5},{"series":"EW-01M","year":2010.169,"level":-6.5},{"series":"EW-01M","year":2010.424,"level":-1.3},{"series":"EW-01M","year":2010.653,"level":-8.8},{"series":"EW-01M","year":2010.909,"level":-7.6},{"series":"EW-01M","year":2011.190,"level":9.5},{"series":"EW-01M","year":2011.224,"level":9},{"series":"EW-01M","year":2011.462,"level":13},{"series":"EW-01M","year":2011.504,"level":12.7},{"series":"EW-01M","year":2011.759,"level":15.5},{"series":"EW-01M","year":2011.989,"level":19.7},{"series":"EW-01M","year":2012.074,"level":21.6},{"series":"EW-01M","year":2012.329,"level":28.1},{"series":"EW-01M","year":2012.465,"level":23.8},{"series":"EW-01M","year":2012.575,"level":15.6},{"series":"EW-01M","year":2012.822,"level":5},{"series":"EW-01M","year":2013.060,"level":12.8},{"series":"EW-01M","year":2013.094,"level":12.9},{"series":"EW-01M","year":2013.332,"level":14},{"series":"EW-01M","year":2013.520,"level":-0.6},{"series":"EW-01M","year":2013.571,"level":-4.6},{"series":"EW-01M","year":2013.826,"level":-7},{"series":"EW-01M","year":2014.055,"level":1.8},{"series":"EW-01M","year":2014.353,"level":-4.2},{"series":"EW-01M","year":2014.582,"level":-18.2},{"series":"EW-01M","year":2014.803,"level":-21.2},{"series":"EW-01M","year":2015.313,"level":-1.5},{"series":"EW-01M","year":2015.543,"level":-8.8},{"series":"EW-01M","year":2015.798,"level":-8.8},{"series":"EW-01M","year":2016.037,"level":-0.4},{"series":"EW-01M","year":2016.292,"level":-2.7},{"series":"EW-01M","year":2016.547,"level":-8.9},{"series":"EW-01M","year":2016.802,"level":-11.3},{"series":"EW-01M","year":2017.031,"level":3.7},{"series":"EW-01M","year":2017.329,"level":8.4},{"series":"EW-01M","year":2017.558,"level":2},{"series":"EW-01M","year":2017.796,"level":22.9},{"series":"EW-01M","year":2018.094,"level":29.2},{"series":"EW-01M","year":2018.306,"level":26.2},{"series":"EW-01M","year":2018.562,"level":17.9},{"series":"EW-01M","year":2018.800,"level":14.3},{"series":"EW-01M","year":2019.310,"level":22.9}],
"mw21m": [
{"series":"MW-21M","year":2008.451,"level":-9},{"series":"MW-21M","year":2008.510,"level":-11.5},{"series":"MW-21M","year":2008.527,"level":-11.7},{"series":"MW-21M","year":2008.510,"level":-18.7},{"series":"MW-21M","year":2008.544,"level":-24},{"series":"MW-21M","year":2008.638,"level":-26.3},{"series":"MW-21M","year":2008.782,"level":-31},{"series":"MW-21M","year":2008.910,"level":-31.7},{"series":"MW-21M","year":2009.003,"level":-20.1},{"series":"MW-21M","year":2009.148,"level":-24.7},{"series":"MW-21M","year":2009.208,"level":-25.2},{"series":"MW-21M","year":2009.336,"level":-21.4},{"series":"MW-21M","year":2009.608,"level":-29},{"series":"MW-21M","year":2009.633,"level":-26.8},{"series":"MW-21M","year":2009.701,"level":-25.7},{"series":"MW-21M","year":2009.761,"level":-25.4},{"series":"MW-21M","year":2009.786,"level":-17.7},{"series":"MW-21M","year":2009.820,"level":-15},{"series":"MW-21M","year":2009.837,"level":-13.7},{"series":"MW-21M","year":2009.854,"level":-12.8},{"series":"MW-21M","year":2009.888,"level":-12.1},{"series":"MW-21M","year":2010.118,"level":-3.7},{"series":"MW-21M","year":2010.160,"level":-15.2},{"series":"MW-21M","year":2010.424,"level":3.3},{"series":"MW-21M","year":2010.466,"level":3.5},{"series":"MW-21M","year":2010.670,"level":1.4},{"series":"MW-21M","year":2010.909,"level":0.1},{"series":"MW-21M","year":2011.190,"level":11.6},{"series":"MW-21M","year":2011.445,"level":16.7},{"series":"MW-21M","year":2011.547,"level":17.3},{"series":"MW-21M","year":2011.759,"level":20.4},{"series":"MW-21M","year":2011.802,"level":20},{"series":"MW-21M","year":2011.870,"level":20.2},{"series":"MW-21M","year":2012.159,"level":9.8},{"series":"MW-21M","year":2012.227,"level":27.2},{"series":"MW-21M","year":2012.329,"level":30.2},{"series":"MW-21M","year":2012.465,"level":29.5},{"series":"MW-21M","year":2012.575,"level":25.4},{"series":"MW-21M","year":2012.822,"level":18.6},{"series":"MW-21M","year":2013.060,"level":20.4},{"series":"MW-21M","year":2013.332,"level":21.9},{"series":"MW-21M","year":2013.571,"level":11.4},{"series":"MW-21M","year":2013.826,"level":4.8},{"series":"MW-21M","year":2014.055,"level":8.7},{"series":"MW-21M","year":2014.353,"level":5.7},{"series":"MW-21M","year":2014.591,"level":-4.6},{"series":"MW-21M","year":2014.803,"level":-9.7},{"series":"MW-21M","year":2015.033,"level":-1.6},{"series":"MW-21M","year":2015.313,"level":3.6},{"series":"MW-21M","year":2015.568,"level":-0.2},{"series":"MW-21M","year":2015.798,"level":-1.6},{"series":"MW-21M","year":2016.037,"level":3},{"series":"MW-21M","year":2016.292,"level":3.8},{"series":"MW-21M","year":2016.547,"level":0},{"series":"MW-21M","year":2016.802,"level":-4.3},{"series":"MW-21M","year":2017.048,"level":3.7},{"series":"MW-21M","year":2017.329,"level":10.9},{"series":"MW-21M","year":2017.558,"level":9},{"series":"MW-21M","year":2018.034,"level":30.6},{"series":"MW-21M","year":2018.136,"level":29.4},{"series":"MW-21M","year":2018.289,"level":30},{"series":"MW-21M","year":2018.579,"level":26},{"series":"MW-21M","year":2018.792,"level":22.9},{"series":"MW-21M","year":2019.047,"level":23.6},{"series":"MW-21M","year":2019.310,"level":27.2}],
"mw29m": [
{"series":"MW-29M","year":2008.595,"level":-32.7},{"series":"MW-29M","year":2008.621,"level":-33.2},{"series":"MW-29M","year":2008.638,"level":-32.8},{"series":"MW-29M","year":2008.714,"level":-35.2},{"series":"MW-29M","year":2008.799,"level":-36},{"series":"MW-29M","year":2008.935,"level":-34},{"series":"MW-29M","year":2009.148,"level":-17.5},{"series":"MW-29M","year":2009.165,"level":-18.2},{"series":"MW-29M","year":2009.310,"level":-12.8},{"series":"MW-29M","year":2009.455,"level":-17},{"series":"MW-29M","year":2009.633,"level":-23},{"series":"MW-29M","year":2009.650,"level":-24.8},{"series":"MW-29M","year":2009.735,"level":-20.5},{"series":"MW-29M","year":2009.829,"level":-19},{"series":"MW-29M","year":2009.871,"level":-17.5},{"series":"MW-29M","year":2009.931,"level":-14.5},{"series":"MW-29M","year":2009.973,"level":-14},{"series":"MW-29M","year":2010.024,"level":-14},{"series":"MW-29M","year":2010.143,"level":-7.5},{"series":"MW-29M","year":2010.194,"level":-7.2},{"series":"MW-29M","year":2010.424,"level":-4.3},{"series":"MW-29M","year":2010.543,"level":-7.5},{"series":"MW-29M","year":2010.670,"level":-12},{"series":"MW-29M","year":2010.909,"level":-11},{"series":"MW-29M","year":2011.147,"level":7},{"series":"MW-29M","year":2011.190,"level":6},{"series":"MW-29M","year":2011.224,"level":5.5},{"series":"MW-29M","year":2011.445,"level":10.2},{"series":"MW-29M","year":2011.555,"level":8},{"series":"MW-29M","year":2012.040,"level":17.5},{"series":"MW-29M","year":2012.082,"level":18.5},{"series":"MW-29M","year":2012.295,"level":25.3},{"series":"MW-29M","year":2012.329,"level":25},{"series":"MW-29M","year":2012.575,"level":11},{"series":"MW-29M","year":2012.796,"level":1.2},{"series":"MW-29M","year":2013.060,"level":9},{"series":"MW-29M","year":2013.340,"level":10},{"series":"MW-29M","year":2013.571,"level":-9.3},{"series":"MW-29M","year":2013.826,"level":-10.2},{"series":"MW-29M","year":2014.055,"level":-1.3},{"series":"MW-29M","year":2014.353,"level":-7.3},{"series":"MW-29M","year":2014.591,"level":-21},{"series":"MW-29M","year":2014.803,"level":-56.1},{"series":"MW-29M","year":2014.990,"level":-44.8},{"series":"MW-29M","year":2015.033,"level":-49.2},{"series":"MW-29M","year":2015.330,"level":-38.3},{"series":"MW-29M","year":2015.568,"level":-58.5},{"series":"MW-29M","year":2015.585,"level":-57.5},{"series":"MW-29M","year":2015.721,"level":-32.6},{"series":"MW-29M","year":2015.798,"level":-36.2},{"series":"MW-29M","year":2016.011,"level":-39.7},{"series":"MW-29M","year":2016.096,"level":-39.7},{"series":"MW-29M","year":2016.207,"level":-38.1},{"series":"MW-29M","year":2016.292,"level":-43},{"series":"MW-29M","year":2016.377,"level":-47.7},{"series":"MW-29M","year":2016.419,"level":-51},{"series":"MW-29M","year":2016.479,"level":-52.3},{"series":"MW-29M","year":2016.521,"level":-53.7},{"series":"MW-29M","year":2016.547,"level":-55.3},{"series":"MW-29M","year":2016.589,"level":-56.1},{"series":"MW-29M","year":2016.649,"level":-59.1},{"series":"MW-29M","year":2016.717,"level":-62.4},{"series":"MW-29M","year":2016.776,"level":-62.6},{"series":"MW-29M","year":2016.819,"level":-62.2},{"series":"MW-29M","year":2016.861,"level":-52.9},{"series":"MW-29M","year":2016.912,"level":-53},{"series":"MW-29M","year":2016.946,"level":-53.6},{"series":"MW-29M","year":2016.971,"level":-56.8},{"series":"MW-29M","year":2017.014,"level":-44},{"series":"MW-29M","year":2017.074,"level":-47},{"series":"MW-29M","year":2017.091,"level":-49.1},{"series":"MW-29M","year":2017.142,"level":-56.8},{"series":"MW-29M","year":2017.227,"level":-36.5},{"series":"MW-29M","year":2017.329,"level":5.5},{"series":"MW-29M","year":2017.397,"level":-36.8},{"series":"MW-29M","year":2017.456,"level":-44.5},{"series":"MW-29M","year":2017.524,"level":-47},{"series":"MW-29M","year":2017.558,"level":-43.8},{"series":"MW-29M","year":2017.592,"level":-0.8},{"series":"MW-29M","year":2017.652,"level":-46},{"series":"MW-29M","year":2017.754,"level":-31.7},{"series":"MW-29M","year":2017.796,"level":-15},{"series":"MW-29M","year":2017.839,"level":-9.6},{"series":"MW-29M","year":2017.881,"level":-8},{"series":"MW-29M","year":2017.898,"level":-34.1},{"series":"MW-29M","year":2017.949,"level":-5.3},{"series":"MW-29M","year":2018.009,"level":-5.6},{"series":"MW-29M","year":2018.094,"level":-8},{"series":"MW-29M","year":2018.221,"level":-7.4},{"series":"MW-29M","year":2018.264,"level":-7.5},{"series":"MW-29M","year":2018.306,"level":-7.8},{"series":"MW-29M","year":2018.391,"level":-12.5},{"series":"MW-29M","year":2018.459,"level":-16},{"series":"MW-29M","year":2018.502,"level":-18},{"series":"MW-29M","year":2018.562,"level":-20.1},{"series":"MW-29M","year":2018.604,"level":-21.4},{"series":"MW-29M","year":2018.792,"level":12},{"series":"MW-29M","year":2018.860,"level":-37.6},{"series":"MW-29M","year":2018.902,"level":-39.5},{"series":"MW-29M","year":2018.962,"level":-47.5},{"series":"MW-29M","year":2019.004,"level":-44.3},{"series":"MW-29M","year":2019.072,"level":18.1},{"series":"MW-29M","year":2019.157,"level":-34.6},{"series":"MW-29M","year":2019.285,"level":-33.8},{"series":"MW-29M","year":2019.310,"level":-36.3}]
},
"layer": [
 {"data": {"name": "dashes"},
  "mark": {"type": "rule", "color": "#A6A6A6", "strokeWidth": 2.5, "strokeDash": [9, 6]},
  "encoding": {"x": {"field": "year", "type": "quantitative",
     "scale": {"domain": [2008.41, 2020.456], "nice": false, "zero": false},
     "axis": {"title": null, "grid": false, "labelOverlap": false, "tickCount": 500,
       "values": [2008.4167,2008.5833,2008.75,2008.9167,2009.0833,2009.25,2009.4167,2009.5833,2009.75,2009.9167,2010.0833,2010.25,2010.4167,2010.5833,2010.75,2010.9167,2011.0833,2011.25,2011.4167,2011.5833,2011.75,2011.9167,2012.0833,2012.25,2012.4167,2012.5833,2012.75,2012.9167,2013.0833,2013.25,2013.4167,2013.5833,2013.75,2013.9167,2014.0833,2014.25,2014.4167,2014.5833,2014.75,2014.9167,2015.0833,2015.25,2015.4167,2015.5833,2015.75,2015.9167,2016.0833,2016.25,2016.4167,2016.5833,2016.75,2016.9167,2017.0833,2017.25,2017.4167,2017.5833,2017.75,2017.9167,2018.0833,2018.25,2018.4167,2018.5833,2018.75,2018.9167,2019.0833,2019.25,2019.4167,2019.5833,2019.75,2019.9167,2020.0833,2020.25,2020.4167],
       "labelExpr": "abs(datum.value - floor(datum.value) - 0.4167) < 0.01 ? 'Jun-' + format(floor(datum.value) % 100, '02d') : ''",
       "tickSize": {"condition": {"test": "abs(datum.value - floor(datum.value) - 0.4167) < 0.01", "value": 8}, "value": 5},
       "labelPadding": 12}}}},
 {"data": {"name": "box"},
  "mark": {"type": "rect", "fill": "white", "stroke": "black", "strokeWidth": 1.5},
  "encoding": {"x": {"field": "year", "type": "quantitative"}, "x2": {"field": "year2"}, "y": {"field": "level", "type": "quantitative"}, "y2": {"field": "level2"}}},
 {"data": {"name": "boxtext"},
  "mark": {"type": "text", "align": "left", "baseline": "middle", "font": "Liberation Sans", "fontSize": 26, "color": "black"},
  "encoding": {"x": {"field": "year", "type": "quantitative"}, "y": {"field": "level", "type": "quantitative"}, "text": {"field": "label"}}},
 {"data": {"name": "ew02t"},
  "mark": {"type": "line", "strokeWidth": 3},
  "encoding": {"x": {"field": "year", "type": "quantitative"},
    "y": {"field": "level", "type": "quantitative",
      "scale": {"domain": [-70, 35], "nice": false, "zero": false},
      "axis": {"title": "Water Level Elevation (feet mean sea level)", "titleFontSize": 25, "titleFontWeight": "bold", "titleColor": "black", "titleAngle": 270, "titleAlign": "center", "titleBaseline": "bottom", "titleX": -80, "titleY": 506,
        "labelOverlap": false, "tickCount": 500,
        "values": [-70,-69,-68,-67,-66,-65,-64,-63,-62,-61,-60,-59,-58,-57,-56,-55,-54,-53,-52,-51,-50,-49,-48,-47,-46,-45,-44,-43,-42,-41,-40,-39,-38,-37,-36,-35,-34,-33,-32,-31,-30,-29,-28,-27,-26,-25,-24,-23,-22,-21,-20,-19,-18,-17,-16,-15,-14,-13,-12,-11,-10,-9,-8,-7,-6,-5,-4,-3,-2,-1,0,1,2,3,4,5,6,7,8,9,10,11,12,13,14,15,16,17,18,19,20,21,22,23,24,25,26,27,28,29,30,31,32,33,34,35],
        "labelExpr": "datum.value % 5 === 0 ? toString(datum.value) : ''",
        "grid": true, "gridColor": "#8c8c8c", "gridWidth": 1,
        "gridOpacity": {"condition": {"test": "datum.value % 5 === 0", "value": 1}, "value": 0},
        "tickSize": {"condition": {"test": "datum.value % 5 === 0", "value": 8}, "value": 5},
        "labelPadding": 16}},
    "stroke": {"field": "series", "type": "nominal",
      "scale": {"domain": ["EW-01T","MW-21T","EW-02T","MW-29T"], "range": ["#800000","#0000FF","#92D050","#E46C0A"]},
      "legend": {"title": null, "orient": "none", "legendX": 322.5, "legendY": -41, "columns": 4, "columnPadding": 108.2, "padding": 0, "clipHeight": 14, "symbolType": "stroke", "symbolSize": 2704, "symbolStrokeWidth": 3, "symbolOffset": 0, "labelOffset": 3.5, "labelFont": "Liberation Sans", "labelFontSize": 11, "labelColor": "black", "labelLimit": 300}}}},
 {"data": {"name": "ew01t"},
  "mark": {"type": "line", "strokeWidth": 2.5},
  "encoding": {"x": {"field": "year", "type": "quantitative"}, "y": {"field": "level", "type": "quantitative"}, "stroke": {"field": "series", "type": "nominal"}}},
 {"data": {"name": "mw21t"},
  "mark": {"type": "line", "strokeWidth": 2.2},
  "encoding": {"x": {"field": "year", "type": "quantitative"}, "y": {"field": "level", "type": "quantitative"}, "stroke": {"field": "series", "type": "nominal"}, "detail": {"field": "seg", "type": "nominal"}}},
 {"data": {"name": "mw29t"},
  "mark": {"type": "line", "strokeWidth": 2.2},
  "encoding": {"x": {"field": "year", "type": "quantitative"}, "y": {"field": "level", "type": "quantitative"}, "stroke": {"field": "series", "type": "nominal"}, "detail": {"field": "seg", "type": "nominal"}}},
 {"data": {"name": "ew01m"},
  "mark": {"type": "point", "filled": false, "size": 140, "strokeWidth": 1.5, "opacity": 1},
  "encoding": {"x": {"field": "year", "type": "quantitative"}, "y": {"field": "level", "type": "quantitative"},
    "color": {"field": "series", "type": "nominal",
      "scale": {"domain": ["EW-01M","MW-21M","EW-02M","MW-29M"], "range": ["#800000","#0000FF","#99CC00","#E46C0A"]},
      "legend": {"title": "\u00a0", "titleOrient": "bottom", "titleFontSize": 10, "titlePadding": 44, "orient": "none", "legendX": 270, "legendY": -119, "columns": 4, "columnPadding": 75.3, "padding": 22, "clipHeight": 14, "symbolSize": 40, "symbolStrokeWidth": 1.5, "symbolOffset": 52.5, "labelOffset": 25.5, "labelFont": "Liberation Sans", "labelFontSize": 11, "labelColor": "black", "strokeColor": "#707070", "labelLimit": 300,
        "labelExpr": "datum.label === 'MW-29M' ? datum.label + '\u00a0\u00a0\u00a0\u00a0\u00a0\u00a0\u00a0\u00a0\u00a0\u00a0' : datum.label"}},
    "shape": {"field": "series", "type": "nominal",
      "scale": {"domain": ["EW-01M","MW-21M","EW-02M","MW-29M"], "range": ["triangle-up","diamond","square","circle"]}}}},
 {"data": {"name": "mw21m"},
  "mark": {"type": "point", "filled": false, "size": 160, "strokeWidth": 1.5, "opacity": 1},
  "encoding": {"x": {"field": "year", "type": "quantitative"}, "y": {"field": "level", "type": "quantitative"}, "color": {"field": "series", "type": "nominal"}, "shape": {"field": "series", "type": "nominal"}}},
 {"data": {"name": "ew02m"},
  "mark": {"type": "point", "filled": false, "size": 30, "strokeWidth": 5.5, "strokeJoin": "miter", "opacity": 1},
  "encoding": {"x": {"field": "year", "type": "quantitative"}, "y": {"field": "level", "type": "quantitative"}, "color": {"field": "series", "type": "nominal"}, "shape": {"field": "series", "type": "nominal"}}},
 {"data": {"name": "mw29m"},
  "mark": {"type": "point", "filled": false, "size": 170, "strokeWidth": 1.5, "opacity": 1},
  "encoding": {"x": {"field": "year", "type": "quantitative"}, "y": {"field": "level", "type": "quantitative"}, "color": {"field": "series", "type": "nominal"}, "shape": {"field": "series", "type": "nominal"}}},
 {"data": {"name": "arrows"},
  "mark": {"type": "rule", "color": "#A0A0A0", "strokeWidth": 2.5},
  "encoding": {"x": {"field": "year", "type": "quantitative"}, "x2": {"field": "year2"}, "y": {"field": "level", "type": "quantitative"}}},
 {"data": {"name": "headsl"},
  "mark": {"type": "point", "shape": "triangle-left", "filled": true, "size": 160, "color": "#A0A0A0", "opacity": 1},
  "encoding": {"x": {"field": "year", "type": "quantitative"}, "y": {"field": "level", "type": "quantitative"}}},
 {"data": {"name": "headsr"},
  "mark": {"type": "point", "shape": "triangle-right", "filled": true, "size": 160, "color": "#A0A0A0", "opacity": 1},
  "encoding": {"x": {"field": "year", "type": "quantitative"}, "y": {"field": "level", "type": "quantitative"}}},
 {"data": {"name": "notesc"},
  "mark": {"type": "text", "align": "center", "baseline": "middle", "font": "Liberation Sans", "fontSize": 24, "fontWeight": "bold", "color": "#A0A0A0"},
  "encoding": {"x": {"field": "year", "type": "quantitative"}, "y": {"field": "level", "type": "quantitative"}, "text": {"field": "label"}}},
 {"data": {"name": "notesl"},
  "mark": {"type": "text", "align": "left", "baseline": "middle", "font": "Liberation Sans", "fontSize": 24, "fontWeight": "bold", "color": "#A0A0A0"},
  "encoding": {"x": {"field": "year", "type": "quantitative"}, "y": {"field": "level", "type": "quantitative"}, "text": {"field": "label"}}}
]
}
